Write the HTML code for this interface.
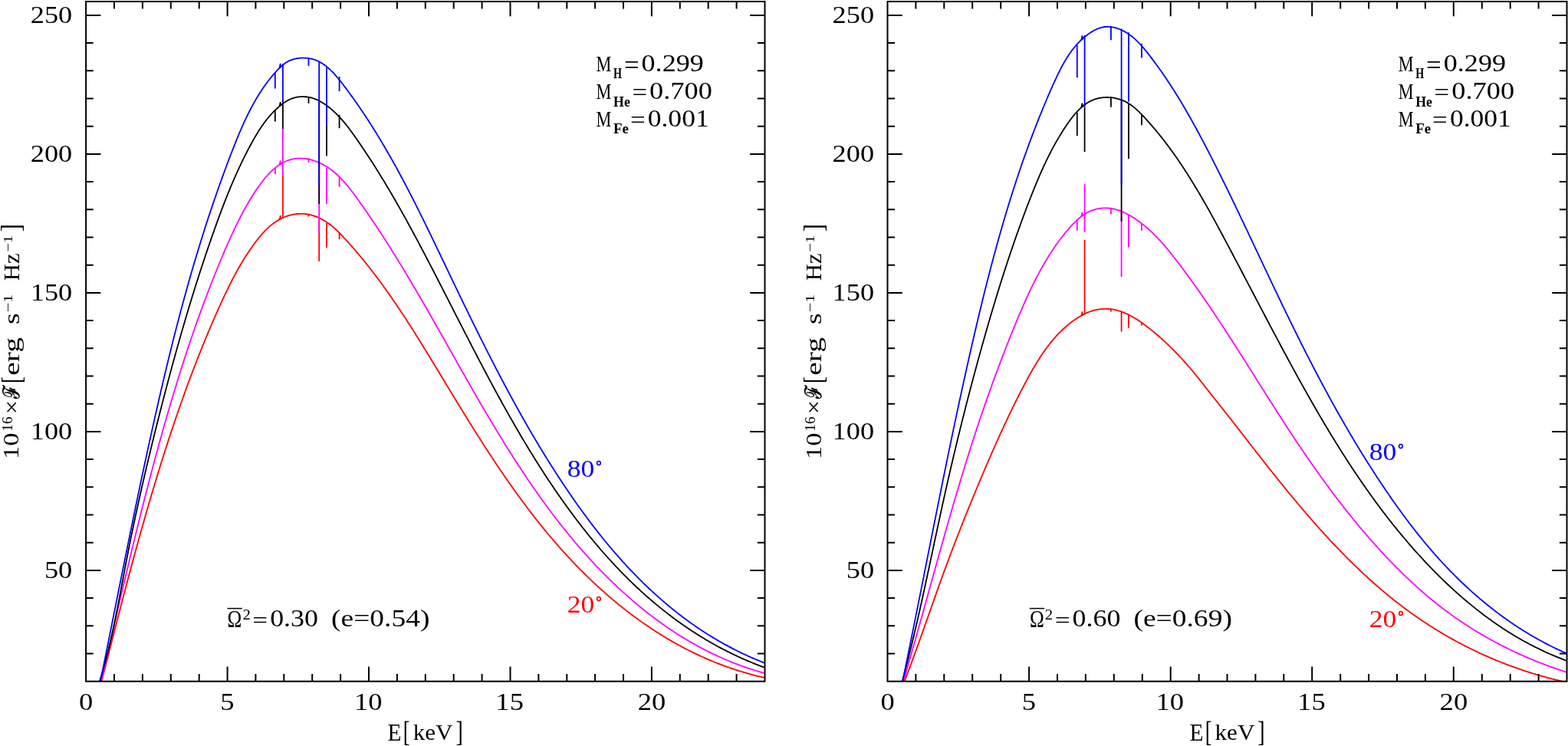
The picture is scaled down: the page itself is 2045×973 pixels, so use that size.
<!DOCTYPE html>
<html><head><meta charset="utf-8"><style>html,body{margin:0;padding:0;background:#fff;overflow:hidden;}svg{display:block;}</style></head>
<body>
<svg width="2045" height="973" viewBox="0 0 2045 973">
<rect width="2045" height="973" fill="#fff"/>
<defs><clipPath id="cl"><rect x="112" y="2" width="885.5" height="886.7"/></clipPath><clipPath id="cr"><rect x="1157.5" y="2" width="886" height="886.7"/></clipPath></defs>
<g clip-path="url(#cl)">
<path d="M130.96 894.93 L133.43 885.23 L133.85 883.55 L134.28 881.87 L134.71 880.18 L135.14 878.50 L135.56 876.81 L135.99 875.13 L136.42 873.44 L136.85 871.76 L137.28 870.08 L137.70 868.39 L138.13 866.71 L138.56 865.02 L138.99 863.34 L139.42 861.66 L139.84 859.97 L140.27 858.29 L140.70 856.60 L141.13 854.92 L141.56 853.23 L141.99 851.55 L142.42 849.87 L142.84 848.18 L143.27 846.50 L143.70 844.81 L144.13 843.13 L144.56 841.44 L144.99 839.76 L145.42 838.08 L145.85 836.39 L146.28 834.71 L146.71 833.02 L147.14 831.34 L147.57 829.66 L148.00 827.97 L148.43 826.29 L148.87 824.60 L149.30 822.92 L149.73 821.24 L150.16 819.55 L150.59 817.87 L151.03 816.19 L151.46 814.50 L151.89 812.82 L152.32 811.14 L152.76 809.45 L153.19 807.77 L153.63 806.09 L154.06 804.40 L154.50 802.72 L154.93 801.04 L155.37 799.35 L155.80 797.67 L156.24 795.99 L156.67 794.30 L157.11 792.62 L157.55 790.94 L157.99 789.26 L158.42 787.57 L158.86 785.89 L159.30 784.21 L159.74 782.53 L160.18 780.85 L160.62 779.16 L161.06 777.48 L161.50 775.80 L161.94 774.12 L162.38 772.44 L162.82 770.76 L163.26 769.08 L163.71 767.39 L164.15 765.71 L164.59 764.03 L165.04 762.35 L165.48 760.67 L165.93 758.99 L166.37 757.31 L166.82 755.63 L167.26 753.95 L167.71 752.27 L168.16 750.59 L168.61 748.91 L169.06 747.23 L169.50 745.55 L169.95 743.87 L170.40 742.19 L170.85 740.51 L171.31 738.84 L171.76 737.16 L172.21 735.48 L172.66 733.80 L173.12 732.12 L173.57 730.44 L174.02 728.77 L174.48 727.09 L174.94 725.41 L175.39 723.73 L175.85 722.06 L176.31 720.38 L176.77 718.70 L177.22 717.03 L177.68 715.35 L178.14 713.68 L178.61 712.00 L179.07 710.32 L179.53 708.65 L179.99 706.97 L180.46 705.30 L180.92 703.62 L181.39 701.95 L181.85 700.27 L182.32 698.60 L182.78 696.93 L183.25 695.25 L183.72 693.58 L184.19 691.90 L184.66 690.23 L185.13 688.56 L185.60 686.89 L186.08 685.21 L186.55 683.54 L187.02 681.87 L187.50 680.20 L187.97 678.53 L188.45 676.85 L188.93 675.18 L189.40 673.51 L189.88 671.84 L190.36 670.17 L190.84 668.50 L191.33 666.83 L191.81 665.16 L192.29 663.49 L192.77 661.82 L193.26 660.15 L193.74 658.49 L194.23 656.82 L194.72 655.15 L195.21 653.48 L195.70 651.81 L196.19 650.15 L196.68 648.48 L197.17 646.81 L197.66 645.15 L198.16 643.48 L198.65 641.82 L199.15 640.15 L199.64 638.49 L200.14 636.82 L200.64 635.16 L201.14 633.49 L201.64 631.83 L202.14 630.16 L202.64 628.50 L203.15 626.84 L203.65 625.18 L204.16 623.51 L204.66 621.85 L205.17 620.19 L205.68 618.53 L206.19 616.87 L206.70 615.21 L207.21 613.54 L207.72 611.88 L208.24 610.22 L208.75 608.57 L209.27 606.91 L209.79 605.25 L210.30 603.59 L210.82 601.93 L211.34 600.27 L211.87 598.62 L212.39 596.96 L212.91 595.30 L213.44 593.65 L213.96 591.99 L214.49 590.33 L215.02 588.68 L215.55 587.02 L216.08 585.37 L216.61 583.71 L217.14 582.06 L217.68 580.41 L218.21 578.75 L218.75 577.10 L219.29 575.45 L219.83 573.80 L220.37 572.14 L220.91 570.49 L221.45 568.84 L222.00 567.19 L222.54 565.54 L223.09 563.89 L223.64 562.24 L224.18 560.59 L224.73 558.95 L225.29 557.30 L225.84 555.65 L226.39 554.00 L226.95 552.36 L227.50 550.71 L228.06 549.06 L228.62 547.42 L229.18 545.77 L229.75 544.13 L230.31 542.48 L230.87 540.84 L231.44 539.20 L232.01 537.55 L232.58 535.91 L233.15 534.27 L233.72 532.63 L234.29 530.99 L234.86 529.35 L235.44 527.71 L236.02 526.07 L236.60 524.43 L237.18 522.79 L237.76 521.15 L238.34 519.51 L238.93 517.88 L239.51 516.24 L240.10 514.61 L240.69 512.97 L241.28 511.34 L241.87 509.70 L242.46 508.07 L243.06 506.44 L243.65 504.80 L244.25 503.17 L244.85 501.54 L245.45 499.91 L246.05 498.28 L246.66 496.65 L247.26 495.02 L247.87 493.39 L248.48 491.77 L249.09 490.14 L249.70 488.51 L250.31 486.89 L250.93 485.27 L251.55 483.64 L252.16 482.02 L252.78 480.40 L253.41 478.77 L254.03 477.15 L254.65 475.53 L255.28 473.91 L255.91 472.29 L256.54 470.68 L257.17 469.06 L257.80 467.44 L258.44 465.83 L259.07 464.21 L259.71 462.60 L260.35 460.98 L260.99 459.37 L261.64 457.76 L262.28 456.15 L262.93 454.54 L263.58 452.93 L264.23 451.32 L264.88 449.71 L265.54 448.11 L266.19 446.50 L266.85 444.89 L267.51 443.29 L268.17 441.69 L268.83 440.08 L269.50 438.48 L270.16 436.88 L270.83 435.28 L271.50 433.68 L272.17 432.08 L272.85 430.49 L273.52 428.89 L274.20 427.30 L274.88 425.70 L275.56 424.11 L276.25 422.52 L276.93 420.92 L277.62 419.33 L278.31 417.74 L279.00 416.16 L279.69 414.57 L280.39 412.98 L281.08 411.40 L281.78 409.81 L282.48 408.23 L283.19 406.65 L283.89 405.06 L284.60 403.48 L285.31 401.90 L286.02 400.33 L286.73 398.75 L287.44 397.17 L288.16 395.60 L288.88 394.02 L289.60 392.45 L290.33 390.88 L291.05 389.31 L291.78 387.74 L292.52 386.17 L293.26 384.61 L294.00 383.05 L294.74 381.49 L295.49 379.93 L296.24 378.37 L297.00 376.81 L297.76 375.26 L298.52 373.71 L299.29 372.16 L300.07 370.61 L300.84 369.07 L301.63 367.52 L302.42 365.98 L303.21 364.45 L304.01 362.91 L304.82 361.38 L305.63 359.85 L306.45 358.32 L307.27 356.80 L308.10 355.28 L308.93 353.76 L309.78 352.25 L310.62 350.74 L311.48 349.23 L312.34 347.72 L313.21 346.22 L314.09 344.72 L314.97 343.23 L315.87 341.74 L316.77 340.25 L317.67 338.76 L318.59 337.28 L319.51 335.81 L320.45 334.34 L321.39 332.87 L322.34 331.40 L323.29 329.94 L324.26 328.49 L325.24 327.03 L326.22 325.59 L327.22 324.14 L328.22 322.70 L329.23 321.27 L330.26 319.84 L331.29 318.41 L332.34 316.99 L333.39 315.58 L334.46 314.18 L335.54 312.78 L336.63 311.40 L337.73 310.03 L338.84 308.67 L339.97 307.33 L341.11 306.01 L342.27 304.70 L343.44 303.41 L344.62 302.14 L345.82 300.89 L347.04 299.66 L348.27 298.46 L349.52 297.28 L350.78 296.12 L352.06 295.00 L353.36 293.90 L354.68 292.83 L356.01 291.79 L357.37 290.78 L358.74 289.81 L360.13 288.87 L361.54 287.97 L362.97 287.11 L364.43 286.28 L365.90 285.49 L367.39 284.75 L368.90 284.04 L370.43 283.37 L371.97 282.75 L373.53 282.17 L375.11 281.63 L376.69 281.14 L378.29 280.69 L379.90 280.29 L381.52 279.93 L383.15 279.62 L384.78 279.36 L386.42 279.15 L388.07 278.98 L389.72 278.87 L391.38 278.80 L393.03 278.79 L394.69 278.82 L396.35 278.91 L398.00 279.06 L399.66 279.25 L401.31 279.50 L402.95 279.81 L404.59 280.17 L406.23 280.58 L407.85 281.03 L409.47 281.54 L411.08 282.10 L412.67 282.70 L414.26 283.35 L415.83 284.03 L417.39 284.77 L418.93 285.54 L420.46 286.35 L421.97 287.20 L423.46 288.08 L424.93 289.00 L426.38 289.95 L427.81 290.94 L429.22 291.96 L430.60 293.00 L431.97 294.07 L433.32 295.17 L434.64 296.30 L435.95 297.44 L437.24 298.61 L438.52 299.79 L439.79 301.00 L441.04 302.22 L442.27 303.45 L443.50 304.70 L444.72 305.95 L445.93 307.22 L447.13 308.49 L448.32 309.77 L449.51 311.06 L450.70 312.35 L451.88 313.64 L453.05 314.93 L454.22 316.23 L455.39 317.52 L456.55 318.83 L457.71 320.13 L458.86 321.44 L460.01 322.75 L461.16 324.06 L462.30 325.38 L463.43 326.70 L464.57 328.02 L465.69 329.35 L466.82 330.67 L467.94 332.00 L469.05 333.34 L470.17 334.67 L471.27 336.01 L472.38 337.35 L473.48 338.69 L474.58 340.04 L475.67 341.39 L476.76 342.74 L477.84 344.09 L478.92 345.44 L480.00 346.80 L481.08 348.16 L482.15 349.52 L483.22 350.89 L484.28 352.26 L485.34 353.63 L486.40 355.00 L487.45 356.37 L488.50 357.75 L489.55 359.13 L490.59 360.51 L491.63 361.89 L492.67 363.27 L493.70 364.66 L494.74 366.05 L495.76 367.44 L496.79 368.84 L497.81 370.23 L498.83 371.63 L499.85 373.03 L500.86 374.43 L501.87 375.83 L502.88 377.24 L503.88 378.65 L504.88 380.05 L505.88 381.47 L506.88 382.88 L507.87 384.29 L508.87 385.71 L509.85 387.13 L510.84 388.55 L511.82 389.97 L512.81 391.39 L513.78 392.82 L514.76 394.25 L515.74 395.67 L516.71 397.10 L517.68 398.54 L518.64 399.97 L519.61 401.40 L520.57 402.84 L521.53 404.28 L522.49 405.72 L523.45 407.16 L524.40 408.60 L525.36 410.04 L526.31 411.49 L527.26 412.94 L528.20 414.38 L529.15 415.83 L530.09 417.28 L531.03 418.73 L531.97 420.19 L532.91 421.64 L533.85 423.10 L534.78 424.55 L535.71 426.01 L536.65 427.47 L537.58 428.93 L538.51 430.39 L539.43 431.86 L540.36 433.32 L541.28 434.78 L542.21 436.25 L543.13 437.72 L544.05 439.18 L544.97 440.65 L545.89 442.12 L546.80 443.59 L547.72 445.06 L548.64 446.53 L549.55 448.01 L550.46 449.48 L551.37 450.96 L552.29 452.43 L553.20 453.91 L554.11 455.38 L555.01 456.86 L555.92 458.34 L556.83 459.82 L557.74 461.30 L558.64 462.78 L559.55 464.26 L560.45 465.74 L561.36 467.22 L562.26 468.71 L563.16 470.19 L564.06 471.67 L564.97 473.16 L565.87 474.64 L566.77 476.13 L567.67 477.61 L568.57 479.10 L569.47 480.58 L570.37 482.07 L571.27 483.56 L572.17 485.04 L573.07 486.53 L573.97 488.02 L574.87 489.51 L575.77 490.99 L576.67 492.48 L577.57 493.97 L578.47 495.46 L579.37 496.95 L580.28 498.44 L581.18 499.92 L582.08 501.41 L582.98 502.90 L583.88 504.39 L584.78 505.88 L585.69 507.37 L586.59 508.86 L587.49 510.35 L588.40 511.84 L589.30 513.32 L590.20 514.81 L591.11 516.30 L592.02 517.79 L592.92 519.28 L593.83 520.77 L594.73 522.25 L595.64 523.74 L596.55 525.23 L597.46 526.72 L598.37 528.20 L599.28 529.69 L600.19 531.17 L601.10 532.66 L602.01 534.15 L602.92 535.63 L603.84 537.12 L604.75 538.60 L605.67 540.09 L606.58 541.57 L607.50 543.05 L608.42 544.54 L609.33 546.02 L610.25 547.50 L611.17 548.98 L612.09 550.46 L613.02 551.94 L613.94 553.42 L614.86 554.90 L615.79 556.38 L616.71 557.86 L617.64 559.34 L618.57 560.81 L619.49 562.29 L620.42 563.76 L621.35 565.24 L622.29 566.71 L623.22 568.19 L624.15 569.66 L625.09 571.13 L626.02 572.60 L626.96 574.07 L627.90 575.54 L628.84 577.01 L629.78 578.48 L630.72 579.94 L631.67 581.41 L632.61 582.88 L633.56 584.34 L634.50 585.80 L635.45 587.27 L636.40 588.73 L637.36 590.19 L638.31 591.65 L639.26 593.10 L640.22 594.56 L641.18 596.02 L642.14 597.47 L643.10 598.93 L644.06 600.38 L645.02 601.83 L645.99 603.28 L646.95 604.73 L647.92 606.18 L648.89 607.63 L649.86 609.07 L650.83 610.52 L651.81 611.96 L652.79 613.40 L653.76 614.84 L654.74 616.28 L655.73 617.72 L656.71 619.16 L657.69 620.59 L658.68 622.03 L659.67 623.46 L660.66 624.89 L661.65 626.32 L662.65 627.75 L663.64 629.18 L664.64 630.60 L665.64 632.03 L666.64 633.45 L667.65 634.87 L668.65 636.29 L669.66 637.71 L670.67 639.12 L671.68 640.54 L672.70 641.95 L673.71 643.36 L674.73 644.77 L675.75 646.18 L676.78 647.59 L677.80 648.99 L678.83 650.39 L679.86 651.80 L680.89 653.20 L681.92 654.59 L682.96 655.99 L684.00 657.38 L685.04 658.78 L686.08 660.17 L687.12 661.55 L688.17 662.94 L689.22 664.33 L690.27 665.71 L691.33 667.09 L692.38 668.47 L693.44 669.85 L694.50 671.22 L695.57 672.59 L696.64 673.96 L697.71 675.33 L698.78 676.70 L699.85 678.07 L700.93 679.43 L702.01 680.79 L703.09 682.15 L704.17 683.50 L705.26 684.86 L706.35 686.21 L707.44 687.56 L708.54 688.91 L709.64 690.25 L710.74 691.60 L711.84 692.94 L712.95 694.28 L714.06 695.61 L715.17 696.95 L716.28 698.28 L717.40 699.61 L718.52 700.93 L719.65 702.26 L720.77 703.58 L721.90 704.90 L723.03 706.22 L724.17 707.53 L725.31 708.84 L726.45 710.15 L727.59 711.46 L728.74 712.77 L729.89 714.07 L731.04 715.37 L732.20 716.67 L733.36 717.96 L734.52 719.25 L735.69 720.54 L736.86 721.83 L738.03 723.11 L739.20 724.39 L740.38 725.67 L741.56 726.95 L742.75 728.22 L743.94 729.49 L745.13 730.76 L746.32 732.02 L747.52 733.28 L748.72 734.54 L749.92 735.80 L751.13 737.05 L752.34 738.30 L753.55 739.55 L754.77 740.79 L755.99 742.03 L757.21 743.27 L758.44 744.50 L759.67 745.74 L760.90 746.96 L762.13 748.19 L763.37 749.41 L764.61 750.63 L765.86 751.84 L767.11 753.06 L768.36 754.26 L769.61 755.47 L770.87 756.67 L772.13 757.87 L773.40 759.07 L774.66 760.26 L775.93 761.44 L777.21 762.63 L778.48 763.81 L779.76 764.99 L781.05 766.16 L782.33 767.33 L783.62 768.50 L784.91 769.66 L786.21 770.82 L787.51 771.98 L788.81 773.13 L790.12 774.28 L791.43 775.42 L792.74 776.56 L794.05 777.70 L795.37 778.83 L796.69 779.96 L798.02 781.08 L799.35 782.20 L800.68 783.32 L802.01 784.43 L803.35 785.54 L804.69 786.65 L806.03 787.75 L807.38 788.84 L808.73 789.94 L810.08 791.02 L811.44 792.11 L812.80 793.19 L814.16 794.26 L815.53 795.34 L816.90 796.40 L818.27 797.47 L819.65 798.52 L821.03 799.58 L822.41 800.63 L823.80 801.67 L825.18 802.71 L826.58 803.75 L827.97 804.78 L829.37 805.81 L830.77 806.83 L832.18 807.85 L833.58 808.86 L835.00 809.87 L836.41 810.88 L837.83 811.88 L839.25 812.87 L840.67 813.86 L842.10 814.85 L843.53 815.83 L844.97 816.80 L846.40 817.77 L847.84 818.74 L849.29 819.70 L850.73 820.66 L852.18 821.61 L853.64 822.55 L855.09 823.50 L856.55 824.43 L858.02 825.36 L859.48 826.29 L860.95 827.21 L862.42 828.13 L863.90 829.04 L865.38 829.94 L866.86 830.84 L868.35 831.74 L869.84 832.63 L871.33 833.51 L872.82 834.39 L874.32 835.27 L875.82 836.13 L877.33 837.00 L878.84 837.86 L880.35 838.71 L881.86 839.56 L883.38 840.40 L884.90 841.23 L886.43 842.06 L887.95 842.89 L889.49 843.71 L891.02 844.52 L892.56 845.33 L894.10 846.13 L895.64 846.93 L897.19 847.72 L898.74 848.50 L900.29 849.28 L901.85 850.06 L903.41 850.82 L904.98 851.59 L906.54 852.34 L908.11 853.09 L909.69 853.84 L911.26 854.57 L912.84 855.31 L914.42 856.03 L916.01 856.75 L917.60 857.47 L919.19 858.17 L920.79 858.88 L922.39 859.57 L923.99 860.26 L925.60 860.94 L927.21 861.62 L928.82 862.29 L930.44 862.96 L932.06 863.61 L933.68 864.27 L935.30 864.91 L936.93 865.55 L938.56 866.18 L940.20 866.81 L941.84 867.43 L943.48 868.04 L945.13 868.65 L946.77 869.25 L948.43 869.84 L950.08 870.43 L951.74 871.01 L953.40 871.59 L955.07 872.15 L956.73 872.71 L958.41 873.27 L960.08 873.82 L961.76 874.36 L963.44 874.89 L965.13 875.42 L966.81 875.94 L968.50 876.45 L970.20 876.96 L971.90 877.46 L973.60 877.95 L975.30 878.43 L977.01 878.91 L978.72 879.38 L980.44 879.85 L982.15 880.30 L983.87 880.75 L985.60 881.20 L987.33 881.63 L989.06 882.06 L990.79 882.48 L992.53 882.90 L994.27 883.30 L996.01 883.70 L997.76 884.10 L1007.51 886.33" stroke="#ff0000" stroke-width="1.8" fill="none" stroke-linejoin="round"/>
<path d="M130.72 894.88 L132.96 885.13 L133.37 883.32 L133.79 881.51 L134.20 879.70 L134.62 877.89 L135.04 876.08 L135.45 874.26 L135.87 872.45 L136.28 870.64 L136.70 868.83 L137.11 867.01 L137.53 865.20 L137.94 863.39 L138.36 861.57 L138.77 859.76 L139.19 857.94 L139.61 856.13 L140.02 854.31 L140.44 852.50 L140.85 850.68 L141.27 848.86 L141.69 847.05 L142.10 845.23 L142.52 843.41 L142.94 841.60 L143.36 839.78 L143.77 837.96 L144.19 836.14 L144.61 834.32 L145.02 832.51 L145.44 830.69 L145.86 828.87 L146.28 827.05 L146.70 825.23 L147.12 823.41 L147.53 821.59 L147.95 819.77 L148.37 817.95 L148.79 816.13 L149.21 814.31 L149.63 812.49 L150.05 810.67 L150.47 808.85 L150.89 807.03 L151.31 805.21 L151.73 803.39 L152.15 801.56 L152.58 799.74 L153.00 797.92 L153.42 796.10 L153.84 794.28 L154.27 792.46 L154.69 790.63 L155.11 788.81 L155.53 786.99 L155.96 785.17 L156.38 783.35 L156.81 781.52 L157.23 779.70 L157.66 777.88 L158.08 776.06 L158.51 774.23 L158.93 772.41 L159.36 770.59 L159.79 768.76 L160.22 766.94 L160.64 765.12 L161.07 763.30 L161.50 761.47 L161.93 759.65 L162.36 757.83 L162.79 756.00 L163.22 754.18 L163.65 752.36 L164.08 750.54 L164.51 748.71 L164.94 746.89 L165.37 745.07 L165.81 743.24 L166.24 741.42 L166.67 739.60 L167.11 737.78 L167.54 735.95 L167.97 734.13 L168.41 732.31 L168.85 730.49 L169.28 728.66 L169.72 726.84 L170.16 725.02 L170.59 723.20 L171.03 721.38 L171.47 719.55 L171.91 717.73 L172.35 715.91 L172.79 714.09 L173.23 712.27 L173.67 710.45 L174.11 708.63 L174.56 706.80 L175.00 704.98 L175.44 703.16 L175.89 701.34 L176.33 699.52 L176.78 697.70 L177.22 695.88 L177.67 694.06 L178.12 692.24 L178.56 690.42 L179.01 688.60 L179.46 686.78 L179.91 684.97 L180.36 683.15 L180.81 681.33 L181.26 679.51 L181.71 677.69 L182.17 675.87 L182.62 674.06 L183.07 672.24 L183.53 670.42 L183.98 668.61 L184.44 666.79 L184.90 664.97 L185.35 663.16 L185.81 661.34 L186.27 659.52 L186.73 657.71 L187.19 655.89 L187.65 654.08 L188.11 652.27 L188.57 650.45 L189.04 648.64 L189.50 646.82 L189.97 645.01 L190.43 643.20 L190.90 641.39 L191.36 639.57 L191.83 637.76 L192.30 635.95 L192.77 634.14 L193.24 632.33 L193.71 630.52 L194.18 628.71 L194.65 626.90 L195.13 625.09 L195.60 623.28 L196.07 621.47 L196.55 619.66 L197.03 617.85 L197.50 616.05 L197.98 614.24 L198.46 612.43 L198.94 610.63 L199.42 608.82 L199.90 607.02 L200.38 605.21 L200.87 603.41 L201.35 601.60 L201.83 599.80 L202.32 598.00 L202.81 596.19 L203.29 594.39 L203.78 592.59 L204.27 590.79 L204.76 588.99 L205.25 587.19 L205.75 585.39 L206.24 583.59 L206.73 581.79 L207.23 579.99 L207.72 578.19 L208.22 576.39 L208.72 574.60 L209.22 572.80 L209.72 571.01 L210.22 569.21 L210.72 567.42 L211.22 565.62 L211.73 563.83 L212.23 562.03 L212.74 560.24 L213.24 558.45 L213.75 556.66 L214.26 554.87 L214.77 553.08 L215.28 551.29 L215.79 549.50 L216.30 547.71 L216.82 545.92 L217.33 544.14 L217.85 542.35 L218.37 540.56 L218.88 538.78 L219.40 536.99 L219.92 535.21 L220.45 533.42 L220.97 531.64 L221.49 529.86 L222.02 528.08 L222.54 526.29 L223.07 524.51 L223.60 522.73 L224.13 520.95 L224.66 519.17 L225.19 517.39 L225.73 515.61 L226.26 513.84 L226.80 512.06 L227.34 510.28 L227.88 508.50 L228.42 506.73 L228.96 504.95 L229.50 503.18 L230.05 501.40 L230.59 499.63 L231.14 497.85 L231.69 496.08 L232.24 494.31 L232.79 492.53 L233.34 490.76 L233.90 488.99 L234.45 487.22 L235.01 485.45 L235.57 483.68 L236.13 481.91 L236.69 480.14 L237.26 478.37 L237.82 476.60 L238.39 474.83 L238.96 473.06 L239.53 471.30 L240.10 469.53 L240.67 467.76 L241.24 465.99 L241.82 464.23 L242.40 462.46 L242.98 460.70 L243.56 458.93 L244.14 457.17 L244.73 455.40 L245.31 453.64 L245.90 451.87 L246.49 450.11 L247.08 448.35 L247.68 446.59 L248.27 444.82 L248.87 443.06 L249.47 441.30 L250.07 439.54 L250.67 437.78 L251.28 436.01 L251.88 434.25 L252.49 432.49 L253.10 430.73 L253.71 428.97 L254.33 427.21 L254.94 425.45 L255.56 423.69 L256.18 421.93 L256.80 420.18 L257.42 418.42 L258.05 416.66 L258.68 414.90 L259.31 413.14 L259.94 411.39 L260.57 409.63 L261.21 407.87 L261.85 406.11 L262.49 404.36 L263.13 402.60 L263.77 400.84 L264.42 399.09 L265.07 397.33 L265.72 395.57 L266.37 393.82 L267.02 392.06 L267.68 390.31 L268.34 388.55 L269.00 386.80 L269.67 385.04 L270.33 383.29 L271.00 381.53 L271.67 379.78 L272.34 378.02 L273.02 376.27 L273.69 374.51 L274.37 372.76 L275.06 371.01 L275.74 369.25 L276.43 367.50 L277.11 365.74 L277.81 363.99 L278.50 362.24 L279.20 360.48 L279.89 358.73 L280.59 356.98 L281.30 355.22 L282.00 353.47 L282.71 351.72 L283.42 349.97 L284.13 348.22 L284.85 346.47 L285.57 344.72 L286.29 342.98 L287.01 341.24 L287.73 339.50 L288.46 337.76 L289.19 336.02 L289.92 334.29 L290.65 332.56 L291.38 330.83 L292.12 329.11 L292.86 327.39 L293.60 325.68 L294.34 323.96 L295.09 322.26 L295.84 320.55 L296.59 318.85 L297.34 317.16 L298.09 315.47 L298.85 313.79 L299.61 312.11 L300.37 310.44 L301.13 308.77 L301.89 307.11 L302.66 305.45 L303.43 303.80 L304.19 302.16 L304.97 300.53 L305.74 298.90 L306.51 297.27 L307.29 295.66 L308.07 294.05 L308.85 292.46 L309.63 290.86 L310.42 289.28 L311.20 287.71 L311.99 286.14 L312.79 284.58 L313.58 283.02 L314.38 281.47 L315.19 279.92 L316.00 278.38 L316.82 276.85 L317.64 275.31 L318.47 273.78 L319.31 272.25 L320.16 270.72 L321.01 269.19 L321.88 267.66 L322.76 266.14 L323.64 264.61 L324.54 263.07 L325.45 261.54 L326.37 260.01 L327.30 258.47 L328.25 256.93 L329.21 255.38 L330.18 253.84 L331.17 252.30 L332.17 250.75 L333.19 249.21 L334.22 247.67 L335.27 246.13 L336.34 244.59 L337.42 243.05 L338.52 241.52 L339.64 239.99 L340.77 238.47 L341.93 236.96 L343.10 235.45 L344.29 233.96 L345.50 232.48 L346.73 231.02 L347.98 229.58 L349.26 228.17 L350.55 226.77 L351.86 225.41 L353.20 224.07 L354.55 222.77 L355.93 221.50 L357.33 220.27 L358.76 219.07 L360.20 217.92 L361.67 216.82 L363.16 215.75 L364.67 214.74 L366.21 213.78 L367.76 212.86 L369.33 212.01 L370.92 211.20 L372.53 210.46 L374.16 209.77 L375.80 209.15 L377.46 208.59 L379.14 208.10 L380.83 207.67 L382.54 207.31 L384.26 207.03 L386.00 206.81 L387.74 206.65 L389.50 206.56 L391.26 206.54 L393.02 206.57 L394.79 206.67 L396.57 206.82 L398.34 207.03 L400.12 207.30 L401.89 207.62 L403.65 208.00 L405.42 208.42 L407.17 208.90 L408.92 209.43 L410.65 210.00 L412.38 210.63 L414.08 211.29 L415.78 212.00 L417.46 212.75 L419.12 213.54 L420.75 214.38 L422.37 215.25 L423.97 216.15 L425.54 217.09 L427.08 218.07 L428.61 219.08 L430.11 220.12 L431.59 221.19 L433.04 222.29 L434.48 223.43 L435.90 224.59 L437.30 225.77 L438.68 226.99 L440.04 228.23 L441.38 229.49 L442.71 230.78 L444.02 232.09 L445.31 233.42 L446.59 234.77 L447.86 236.14 L449.11 237.53 L450.35 238.94 L451.57 240.36 L452.78 241.80 L453.98 243.26 L455.17 244.73 L456.35 246.21 L457.52 247.70 L458.69 249.20 L459.84 250.72 L460.98 252.24 L462.12 253.77 L463.25 255.30 L464.37 256.84 L465.49 258.39 L466.60 259.94 L467.71 261.50 L468.82 263.05 L469.92 264.61 L471.02 266.16 L472.12 267.72 L473.21 269.28 L474.30 270.84 L475.38 272.40 L476.47 273.96 L477.55 275.53 L478.63 277.09 L479.70 278.66 L480.77 280.22 L481.84 281.79 L482.91 283.36 L483.97 284.92 L485.03 286.49 L486.09 288.06 L487.14 289.63 L488.19 291.21 L489.24 292.78 L490.29 294.35 L491.33 295.93 L492.37 297.50 L493.41 299.08 L494.45 300.66 L495.48 302.23 L496.51 303.81 L497.54 305.39 L498.57 306.97 L499.59 308.55 L500.61 310.13 L501.63 311.72 L502.65 313.30 L503.66 314.88 L504.67 316.47 L505.68 318.05 L506.69 319.64 L507.69 321.22 L508.70 322.81 L509.70 324.40 L510.69 325.99 L511.69 327.58 L512.68 329.17 L513.68 330.76 L514.67 332.35 L515.65 333.94 L516.64 335.54 L517.62 337.13 L518.61 338.72 L519.59 340.32 L520.57 341.91 L521.54 343.51 L522.52 345.11 L523.49 346.70 L524.46 348.30 L525.43 349.90 L526.40 351.50 L527.36 353.10 L528.33 354.70 L529.29 356.30 L530.25 357.90 L531.21 359.50 L532.17 361.11 L533.13 362.71 L534.08 364.31 L535.04 365.92 L535.99 367.52 L536.94 369.13 L537.89 370.73 L538.84 372.34 L539.78 373.95 L540.73 375.55 L541.67 377.16 L542.61 378.77 L543.56 380.38 L544.50 381.99 L545.44 383.59 L546.37 385.20 L547.31 386.81 L548.25 388.43 L549.18 390.04 L550.11 391.65 L551.05 393.26 L551.98 394.87 L552.91 396.48 L553.84 398.10 L554.77 399.71 L555.70 401.32 L556.62 402.94 L557.55 404.55 L558.48 406.17 L559.40 407.78 L560.33 409.40 L561.25 411.01 L562.17 412.63 L563.09 414.25 L564.02 415.86 L564.94 417.48 L565.86 419.10 L566.78 420.72 L567.70 422.33 L568.62 423.95 L569.53 425.57 L570.45 427.19 L571.37 428.81 L572.29 430.43 L573.20 432.05 L574.12 433.66 L575.04 435.28 L575.95 436.90 L576.87 438.52 L577.78 440.15 L578.70 441.77 L579.61 443.39 L580.53 445.01 L581.44 446.63 L582.36 448.25 L583.27 449.87 L584.19 451.49 L585.10 453.11 L586.02 454.74 L586.93 456.36 L587.85 457.98 L588.76 459.60 L589.68 461.22 L590.59 462.85 L591.51 464.47 L592.42 466.09 L593.34 467.71 L594.25 469.34 L595.17 470.96 L596.09 472.58 L597.01 474.20 L597.92 475.83 L598.84 477.45 L599.76 479.07 L600.68 480.70 L601.60 482.32 L602.52 483.94 L603.44 485.56 L604.36 487.19 L605.28 488.81 L606.20 490.43 L607.12 492.06 L608.05 493.68 L608.97 495.30 L609.90 496.92 L610.82 498.55 L611.75 500.17 L612.68 501.79 L613.60 503.41 L614.53 505.03 L615.46 506.65 L616.39 508.28 L617.32 509.90 L618.26 511.52 L619.19 513.14 L620.12 514.76 L621.06 516.38 L621.99 518.00 L622.93 519.61 L623.87 521.23 L624.81 522.85 L625.75 524.47 L626.69 526.09 L627.63 527.70 L628.57 529.32 L629.52 530.93 L630.46 532.55 L631.41 534.16 L632.35 535.78 L633.30 537.39 L634.25 539.00 L635.20 540.61 L636.16 542.23 L637.11 543.84 L638.07 545.45 L639.02 547.06 L639.98 548.66 L640.94 550.27 L641.90 551.88 L642.86 553.48 L643.83 555.09 L644.79 556.69 L645.76 558.30 L646.72 559.90 L647.69 561.50 L648.67 563.10 L649.64 564.70 L650.61 566.30 L651.59 567.90 L652.56 569.50 L653.54 571.09 L654.52 572.69 L655.51 574.28 L656.49 575.88 L657.48 577.47 L658.46 579.06 L659.45 580.65 L660.44 582.24 L661.43 583.82 L662.43 585.41 L663.43 587.00 L664.42 588.58 L665.42 590.16 L666.43 591.74 L667.43 593.32 L668.44 594.90 L669.44 596.48 L670.45 598.06 L671.46 599.63 L672.48 601.20 L673.49 602.78 L674.51 604.35 L675.53 605.91 L676.55 607.48 L677.58 609.05 L678.60 610.61 L679.63 612.18 L680.66 613.74 L681.70 615.30 L682.73 616.86 L683.77 618.41 L684.81 619.97 L685.85 621.52 L686.89 623.08 L687.94 624.63 L688.99 626.18 L690.04 627.72 L691.09 629.27 L692.15 630.81 L693.21 632.35 L694.27 633.89 L695.33 635.43 L696.40 636.97 L697.47 638.50 L698.54 640.04 L699.61 641.57 L700.69 643.10 L701.76 644.62 L702.84 646.15 L703.93 647.67 L705.01 649.19 L706.10 650.71 L707.20 652.23 L708.29 653.75 L709.39 655.26 L710.49 656.77 L711.59 658.28 L712.70 659.79 L713.80 661.29 L714.91 662.79 L716.03 664.29 L717.15 665.79 L718.27 667.29 L719.39 668.78 L720.51 670.28 L721.64 671.77 L722.77 673.25 L723.91 674.74 L725.05 676.22 L726.19 677.70 L727.33 679.18 L728.48 680.65 L729.63 682.13 L730.78 683.60 L731.94 685.07 L733.09 686.53 L734.26 688.00 L735.42 689.46 L736.59 690.92 L737.76 692.37 L738.94 693.83 L740.12 695.28 L741.30 696.72 L742.48 698.17 L743.67 699.61 L744.86 701.05 L746.06 702.49 L747.26 703.93 L748.46 705.36 L749.67 706.79 L750.88 708.22 L752.09 709.64 L753.30 711.06 L754.52 712.48 L755.75 713.90 L756.97 715.31 L758.20 716.72 L759.44 718.13 L760.68 719.53 L761.92 720.93 L763.16 722.33 L764.41 723.73 L765.66 725.12 L766.92 726.51 L768.18 727.90 L769.44 729.28 L770.71 730.66 L771.98 732.04 L773.25 733.41 L774.53 734.78 L775.81 736.15 L777.10 737.51 L778.38 738.87 L779.68 740.23 L780.97 741.58 L782.27 742.93 L783.58 744.28 L784.88 745.62 L786.20 746.96 L787.51 748.30 L788.83 749.63 L790.15 750.96 L791.48 752.28 L792.81 753.60 L794.14 754.92 L795.48 756.23 L796.82 757.54 L798.16 758.84 L799.51 760.14 L800.86 761.44 L802.22 762.73 L803.58 764.02 L804.94 765.31 L806.31 766.59 L807.68 767.86 L809.06 769.13 L810.43 770.40 L811.82 771.66 L813.20 772.92 L814.59 774.18 L815.99 775.43 L817.38 776.67 L818.78 777.91 L820.19 779.15 L821.60 780.38 L823.01 781.61 L824.43 782.83 L825.85 784.05 L827.27 785.26 L828.70 786.47 L830.13 787.67 L831.57 788.87 L833.00 790.06 L834.45 791.25 L835.89 792.43 L837.35 793.61 L838.80 794.78 L840.26 795.95 L841.72 797.11 L843.19 798.27 L844.66 799.42 L846.13 800.57 L847.61 801.71 L849.09 802.85 L850.57 803.98 L852.06 805.10 L853.56 806.22 L855.05 807.34 L856.55 808.45 L858.06 809.55 L859.57 810.65 L861.08 811.74 L862.60 812.83 L864.12 813.91 L865.64 814.98 L867.17 816.05 L868.70 817.12 L870.23 818.17 L871.77 819.22 L873.32 820.27 L874.86 821.31 L876.42 822.34 L877.97 823.37 L879.53 824.39 L881.09 825.41 L882.66 826.42 L884.23 827.42 L885.81 828.42 L887.38 829.41 L888.97 830.39 L890.55 831.37 L892.14 832.34 L893.74 833.30 L895.34 834.26 L896.94 835.21 L898.55 836.16 L900.16 837.10 L901.77 838.03 L903.39 838.95 L905.01 839.87 L906.64 840.78 L908.27 841.69 L909.90 842.59 L911.54 843.48 L913.18 844.36 L914.83 845.24 L916.48 846.11 L918.13 846.97 L919.79 847.83 L921.45 848.68 L923.12 849.52 L924.79 850.35 L926.46 851.18 L928.14 852.00 L929.82 852.82 L931.51 853.62 L933.20 854.42 L934.89 855.21 L936.59 855.99 L938.29 856.77 L940.00 857.54 L941.71 858.30 L943.42 859.05 L945.14 859.80 L946.86 860.53 L948.59 861.27 L950.32 861.99 L952.05 862.70 L953.79 863.41 L955.54 864.11 L957.28 864.80 L959.03 865.48 L960.79 866.16 L962.55 866.82 L964.31 867.48 L966.08 868.13 L967.85 868.78 L969.62 869.41 L971.40 870.04 L973.19 870.66 L974.97 871.27 L976.76 871.87 L978.56 872.46 L980.36 873.04 L982.16 873.62 L983.97 874.19 L985.78 874.75 L987.60 875.30 L989.42 875.84 L991.24 876.37 L993.07 876.90 L994.91 877.42 L996.74 877.92 L1006.37 880.63" stroke="#ff00ff" stroke-width="1.8" fill="none" stroke-linejoin="round"/>
<path d="M128.12 894.55 L131.02 884.98 L131.62 883.06 L132.20 881.13 L132.78 879.20 L133.35 877.26 L133.91 875.33 L134.47 873.39 L135.03 871.46 L135.57 869.52 L136.11 867.58 L136.65 865.64 L137.17 863.70 L137.70 861.75 L138.21 859.81 L138.72 857.86 L139.23 855.92 L139.73 853.97 L140.23 852.02 L140.72 850.07 L141.20 848.12 L141.68 846.16 L142.16 844.21 L142.63 842.25 L143.09 840.30 L143.55 838.34 L144.01 836.38 L144.46 834.42 L144.91 832.46 L145.36 830.50 L145.80 828.54 L146.24 826.58 L146.67 824.61 L147.10 822.65 L147.52 820.68 L147.95 818.71 L148.37 816.75 L148.78 814.78 L149.20 812.81 L149.61 810.84 L150.01 808.87 L150.42 806.90 L150.82 804.93 L151.22 802.96 L151.61 800.99 L152.01 799.01 L152.40 797.04 L152.79 795.07 L153.18 793.09 L153.57 791.12 L153.95 789.14 L154.33 787.17 L154.71 785.19 L155.09 783.21 L155.47 781.24 L155.85 779.26 L156.22 777.28 L156.60 775.30 L156.97 773.33 L157.35 771.35 L157.72 769.37 L158.09 767.39 L158.46 765.41 L158.83 763.43 L159.20 761.46 L159.57 759.48 L159.94 757.50 L160.31 755.52 L160.68 753.54 L161.05 751.56 L161.42 749.58 L161.79 747.60 L162.17 745.63 L162.54 743.65 L162.91 741.67 L163.29 739.69 L163.66 737.71 L164.04 735.74 L164.41 733.76 L164.79 731.78 L165.17 729.80 L165.55 727.83 L165.94 725.85 L166.32 723.88 L166.71 721.90 L167.10 719.93 L167.48 717.95 L167.88 715.98 L168.27 714.00 L168.66 712.03 L169.06 710.05 L169.45 708.08 L169.85 706.11 L170.25 704.14 L170.65 702.16 L171.05 700.19 L171.45 698.22 L171.86 696.25 L172.27 694.28 L172.67 692.31 L173.08 690.34 L173.49 688.37 L173.90 686.40 L174.32 684.43 L174.73 682.46 L175.15 680.49 L175.57 678.52 L175.98 676.55 L176.40 674.58 L176.83 672.62 L177.25 670.65 L177.67 668.68 L178.10 666.71 L178.52 664.75 L178.95 662.78 L179.38 660.82 L179.81 658.85 L180.24 656.89 L180.67 654.92 L181.11 652.96 L181.54 650.99 L181.98 649.03 L182.42 647.06 L182.86 645.10 L183.30 643.14 L183.74 641.18 L184.18 639.21 L184.62 637.25 L185.07 635.29 L185.52 633.33 L185.96 631.37 L186.41 629.41 L186.86 627.45 L187.31 625.49 L187.76 623.53 L188.22 621.57 L188.67 619.61 L189.13 617.65 L189.58 615.69 L190.04 613.73 L190.50 611.77 L190.96 609.81 L191.42 607.86 L191.88 605.90 L192.35 603.94 L192.81 601.99 L193.28 600.03 L193.74 598.07 L194.21 596.12 L194.68 594.16 L195.15 592.21 L195.62 590.25 L196.09 588.30 L196.56 586.34 L197.04 584.39 L197.51 582.44 L197.99 580.48 L198.46 578.53 L198.94 576.58 L199.42 574.62 L199.90 572.67 L200.38 570.72 L200.86 568.77 L201.34 566.82 L201.83 564.87 L202.31 562.92 L202.80 560.96 L203.28 559.01 L203.77 557.06 L204.26 555.12 L204.75 553.17 L205.24 551.22 L205.73 549.27 L206.22 547.32 L206.71 545.37 L207.20 543.42 L207.70 541.48 L208.19 539.53 L208.69 537.58 L209.19 535.63 L209.68 533.69 L210.18 531.74 L210.68 529.80 L211.18 527.85 L211.68 525.91 L212.19 523.96 L212.69 522.02 L213.19 520.07 L213.70 518.13 L214.20 516.18 L214.71 514.24 L215.22 512.30 L215.73 510.35 L216.24 508.41 L216.75 506.47 L217.26 504.53 L217.77 502.59 L218.29 500.65 L218.80 498.71 L219.32 496.77 L219.84 494.83 L220.35 492.89 L220.87 490.95 L221.39 489.01 L221.91 487.07 L222.44 485.13 L222.96 483.19 L223.48 481.26 L224.01 479.32 L224.54 477.38 L225.07 475.45 L225.59 473.51 L226.12 471.57 L226.66 469.64 L227.19 467.70 L227.72 465.77 L228.26 463.84 L228.79 461.90 L229.33 459.97 L229.87 458.04 L230.41 456.10 L230.95 454.17 L231.49 452.24 L232.04 450.31 L232.58 448.38 L233.13 446.45 L233.68 444.52 L234.22 442.59 L234.77 440.66 L235.33 438.73 L235.88 436.80 L236.43 434.87 L236.99 432.95 L237.54 431.02 L238.10 429.09 L238.66 427.17 L239.22 425.24 L239.79 423.32 L240.35 421.39 L240.91 419.47 L241.48 417.54 L242.05 415.62 L242.62 413.70 L243.19 411.78 L243.76 409.85 L244.33 407.93 L244.91 406.01 L245.48 404.09 L246.06 402.17 L246.64 400.25 L247.22 398.33 L247.81 396.42 L248.39 394.50 L248.98 392.58 L249.56 390.66 L250.15 388.75 L250.74 386.83 L251.33 384.92 L251.93 383.00 L252.52 381.09 L253.12 379.17 L253.71 377.26 L254.31 375.35 L254.92 373.43 L255.52 371.52 L256.12 369.61 L256.73 367.70 L257.34 365.79 L257.95 363.88 L258.56 361.97 L259.17 360.06 L259.78 358.16 L260.40 356.25 L261.02 354.34 L261.64 352.43 L262.26 350.53 L262.88 348.62 L263.51 346.72 L264.13 344.82 L264.76 342.91 L265.39 341.01 L266.02 339.11 L266.66 337.21 L267.29 335.30 L267.93 333.40 L268.57 331.50 L269.21 329.60 L269.85 327.71 L270.49 325.81 L271.14 323.91 L271.79 322.01 L272.44 320.12 L273.09 318.22 L273.74 316.33 L274.40 314.43 L275.06 312.54 L275.72 310.64 L276.38 308.75 L277.04 306.86 L277.70 304.97 L278.37 303.08 L279.04 301.19 L279.71 299.30 L280.38 297.41 L281.06 295.52 L281.74 293.63 L282.42 291.75 L283.10 289.86 L283.78 287.98 L284.47 286.09 L285.16 284.21 L285.85 282.33 L286.55 280.45 L287.24 278.57 L287.95 276.69 L288.65 274.81 L289.36 272.93 L290.07 271.06 L290.78 269.18 L291.50 267.31 L292.22 265.44 L292.95 263.57 L293.68 261.70 L294.41 259.83 L295.15 257.97 L295.89 256.10 L296.64 254.24 L297.39 252.38 L298.14 250.52 L298.90 248.66 L299.66 246.80 L300.43 244.95 L301.20 243.09 L301.98 241.24 L302.76 239.39 L303.55 237.55 L304.35 235.70 L305.14 233.86 L305.95 232.02 L306.76 230.18 L307.57 228.34 L308.39 226.50 L309.22 224.67 L310.05 222.84 L310.89 221.01 L311.73 219.18 L312.58 217.36 L313.44 215.54 L314.30 213.72 L315.17 211.90 L316.05 210.08 L316.93 208.27 L317.82 206.46 L318.72 204.66 L319.62 202.85 L320.53 201.05 L321.45 199.25 L322.37 197.45 L323.30 195.66 L324.24 193.87 L325.19 192.08 L326.14 190.29 L327.11 188.51 L328.08 186.73 L329.06 184.96 L330.04 183.19 L331.04 181.43 L332.05 179.67 L333.07 177.93 L334.10 176.19 L335.15 174.46 L336.20 172.74 L337.27 171.03 L338.36 169.34 L339.45 167.65 L340.57 165.98 L341.69 164.33 L342.84 162.69 L344.00 161.06 L345.18 159.46 L346.37 157.87 L347.59 156.30 L348.82 154.75 L350.07 153.21 L351.35 151.70 L352.64 150.21 L353.95 148.75 L355.29 147.31 L356.64 145.89 L358.02 144.49 L359.43 143.13 L360.86 141.79 L362.31 140.47 L363.78 139.19 L365.29 137.93 L366.81 136.71 L368.37 135.52 L369.95 134.38 L371.56 133.28 L373.20 132.25 L374.87 131.27 L376.57 130.37 L378.30 129.54 L380.06 128.79 L381.85 128.13 L383.67 127.57 L385.52 127.09 L387.39 126.70 L389.29 126.40 L391.19 126.19 L393.11 126.06 L395.04 126.03 L396.97 126.09 L398.91 126.23 L400.84 126.46 L402.77 126.77 L404.68 127.18 L406.58 127.67 L408.47 128.24 L410.34 128.89 L412.19 129.62 L414.02 130.43 L415.83 131.30 L417.62 132.24 L419.39 133.23 L421.14 134.29 L422.86 135.39 L424.56 136.55 L426.24 137.74 L427.89 138.98 L429.51 140.26 L431.11 141.56 L432.68 142.90 L434.22 144.25 L435.74 145.63 L437.22 147.03 L438.68 148.44 L440.11 149.88 L441.52 151.33 L442.90 152.80 L444.26 154.28 L445.61 155.78 L446.93 157.30 L448.23 158.82 L449.51 160.36 L450.78 161.92 L452.03 163.48 L453.26 165.05 L454.48 166.64 L455.69 168.23 L456.89 169.83 L458.07 171.44 L459.25 173.05 L460.42 174.68 L461.58 176.30 L462.73 177.93 L463.88 179.57 L465.03 181.21 L466.17 182.85 L467.31 184.49 L468.44 186.13 L469.57 187.78 L470.70 189.43 L471.82 191.08 L472.94 192.74 L474.06 194.40 L475.17 196.06 L476.28 197.72 L477.39 199.39 L478.49 201.05 L479.59 202.72 L480.69 204.40 L481.78 206.07 L482.87 207.75 L483.95 209.43 L485.04 211.11 L486.11 212.79 L487.19 214.48 L488.26 216.17 L489.33 217.86 L490.40 219.55 L491.46 221.24 L492.53 222.94 L493.58 224.64 L494.64 226.34 L495.69 228.04 L496.74 229.74 L497.78 231.45 L498.83 233.16 L499.87 234.87 L500.91 236.58 L501.94 238.29 L502.97 240.01 L504.00 241.73 L505.03 243.45 L506.05 245.17 L507.07 246.89 L508.09 248.61 L509.11 250.34 L510.12 252.07 L511.13 253.80 L512.14 255.53 L513.15 257.26 L514.15 259.00 L515.16 260.73 L516.16 262.47 L517.15 264.21 L518.15 265.95 L519.14 267.69 L520.13 269.43 L521.12 271.18 L522.10 272.92 L523.09 274.67 L524.07 276.42 L525.05 278.17 L526.03 279.92 L527.00 281.67 L527.98 283.42 L528.95 285.18 L529.92 286.93 L530.89 288.69 L531.85 290.45 L532.82 292.21 L533.78 293.97 L534.74 295.73 L535.70 297.49 L536.66 299.25 L537.61 301.02 L538.57 302.78 L539.52 304.55 L540.47 306.32 L541.42 308.08 L542.37 309.85 L543.31 311.62 L544.26 313.39 L545.20 315.16 L546.14 316.93 L547.09 318.71 L548.02 320.48 L548.96 322.25 L549.90 324.03 L550.84 325.80 L551.77 327.58 L552.70 329.36 L553.63 331.13 L554.57 332.91 L555.50 334.69 L556.42 336.47 L557.35 338.25 L558.28 340.03 L559.20 341.81 L560.13 343.59 L561.05 345.37 L561.98 347.15 L562.90 348.93 L563.82 350.71 L564.74 352.49 L565.66 354.28 L566.58 356.06 L567.50 357.84 L568.41 359.62 L569.33 361.41 L570.25 363.19 L571.16 364.97 L572.08 366.76 L572.99 368.54 L573.91 370.32 L574.82 372.11 L575.74 373.89 L576.65 375.68 L577.56 377.46 L578.47 379.24 L579.38 381.03 L580.30 382.81 L581.21 384.60 L582.12 386.38 L583.03 388.16 L583.94 389.95 L584.85 391.73 L585.76 393.52 L586.67 395.30 L587.58 397.08 L588.49 398.87 L589.40 400.65 L590.31 402.44 L591.22 404.22 L592.13 406.00 L593.04 407.79 L593.95 409.57 L594.86 411.35 L595.77 413.14 L596.68 414.92 L597.59 416.70 L598.50 418.49 L599.41 420.27 L600.32 422.05 L601.23 423.83 L602.14 425.62 L603.05 427.40 L603.96 429.18 L604.88 430.96 L605.79 432.74 L606.70 434.52 L607.62 436.30 L608.53 438.08 L609.45 439.86 L610.36 441.64 L611.28 443.42 L612.19 445.20 L613.11 446.98 L614.03 448.76 L614.95 450.54 L615.87 452.32 L616.78 454.09 L617.71 455.87 L618.63 457.65 L619.55 459.42 L620.47 461.20 L621.40 462.98 L622.32 464.75 L623.25 466.53 L624.17 468.30 L625.10 470.08 L626.03 471.85 L626.96 473.62 L627.89 475.40 L628.82 477.17 L629.75 478.94 L630.68 480.71 L631.62 482.48 L632.56 484.25 L633.49 486.02 L634.43 487.79 L635.37 489.56 L636.31 491.33 L637.25 493.10 L638.20 494.86 L639.14 496.63 L640.09 498.40 L641.04 500.16 L641.98 501.93 L642.93 503.69 L643.89 505.45 L644.84 507.22 L645.79 508.98 L646.75 510.74 L647.71 512.50 L648.67 514.26 L649.63 516.02 L650.59 517.78 L651.56 519.54 L652.52 521.30 L653.49 523.05 L654.46 524.81 L655.43 526.57 L656.41 528.32 L657.38 530.07 L658.36 531.83 L659.34 533.58 L660.32 535.33 L661.30 537.08 L662.29 538.83 L663.27 540.58 L664.26 542.33 L665.25 544.08 L666.25 545.82 L667.24 547.57 L668.24 549.31 L669.24 551.06 L670.24 552.80 L671.24 554.54 L672.25 556.29 L673.26 558.03 L674.27 559.77 L675.28 561.50 L676.29 563.24 L677.31 564.98 L678.33 566.71 L679.35 568.45 L680.38 570.18 L681.40 571.92 L682.43 573.65 L683.47 575.38 L684.50 577.11 L685.54 578.84 L686.58 580.57 L687.62 582.29 L688.66 584.02 L689.71 585.74 L690.76 587.46 L691.81 589.18 L692.87 590.90 L693.93 592.62 L694.99 594.34 L696.05 596.06 L697.12 597.77 L698.19 599.48 L699.26 601.19 L700.33 602.90 L701.41 604.61 L702.49 606.32 L703.57 608.02 L704.66 609.73 L705.74 611.43 L706.84 613.13 L707.93 614.82 L709.03 616.52 L710.13 618.21 L711.23 619.91 L712.33 621.60 L713.44 623.28 L714.55 624.97 L715.67 626.65 L716.79 628.34 L717.91 630.02 L719.03 631.70 L720.16 633.37 L721.29 635.04 L722.42 636.72 L723.56 638.38 L724.70 640.05 L725.84 641.72 L726.98 643.38 L728.13 645.04 L729.29 646.70 L730.44 648.35 L731.60 650.00 L732.76 651.65 L733.93 653.30 L735.09 654.94 L736.27 656.59 L737.44 658.23 L738.62 659.86 L739.80 661.50 L740.98 663.13 L742.17 664.76 L743.36 666.38 L744.56 668.01 L745.76 669.63 L746.96 671.24 L748.17 672.86 L749.38 674.47 L750.59 676.08 L751.80 677.68 L753.02 679.29 L754.25 680.88 L755.47 682.48 L756.70 684.07 L757.94 685.66 L759.17 687.25 L760.42 688.83 L761.66 690.41 L762.91 691.99 L764.16 693.56 L765.42 695.13 L766.68 696.70 L767.94 698.26 L769.21 699.82 L770.48 701.38 L771.75 702.93 L773.03 704.48 L774.31 706.02 L775.60 707.56 L776.89 709.10 L778.18 710.64 L779.48 712.17 L780.78 713.69 L782.09 715.22 L783.40 716.74 L784.71 718.25 L786.03 719.76 L787.35 721.27 L788.68 722.77 L790.01 724.27 L791.34 725.77 L792.68 727.26 L794.02 728.75 L795.37 730.23 L796.72 731.71 L798.07 733.18 L799.43 734.65 L800.79 736.12 L802.16 737.58 L803.53 739.04 L804.91 740.49 L806.29 741.94 L807.67 743.38 L809.06 744.82 L810.45 746.26 L811.85 747.69 L813.25 749.12 L814.65 750.54 L816.06 751.95 L817.48 753.37 L818.89 754.77 L820.32 756.18 L821.74 757.58 L823.18 758.97 L824.61 760.36 L826.05 761.74 L827.50 763.12 L828.95 764.50 L830.40 765.86 L831.86 767.23 L833.32 768.59 L834.79 769.94 L836.26 771.29 L837.74 772.63 L839.22 773.97 L840.71 775.31 L842.20 776.64 L843.69 777.96 L845.19 779.28 L846.70 780.59 L848.21 781.90 L849.72 783.20 L851.24 784.49 L852.77 785.79 L854.29 787.07 L855.83 788.35 L857.37 789.63 L858.91 790.90 L860.46 792.16 L862.01 793.42 L863.57 794.67 L865.13 795.92 L866.70 797.16 L868.27 798.39 L869.85 799.62 L871.43 800.84 L873.02 802.06 L874.61 803.27 L876.21 804.48 L877.81 805.68 L879.42 806.87 L881.03 808.06 L882.65 809.24 L884.27 810.42 L885.90 811.59 L887.54 812.75 L889.17 813.91 L890.82 815.06 L892.47 816.20 L894.12 817.34 L895.78 818.47 L897.45 819.60 L899.12 820.72 L900.79 821.83 L902.47 822.94 L904.16 824.04 L905.85 825.13 L907.54 826.22 L909.25 827.30 L910.95 828.38 L912.67 829.44 L914.38 830.50 L916.11 831.56 L917.84 832.60 L919.57 833.65 L921.31 834.68 L923.06 835.71 L924.81 836.73 L926.56 837.74 L928.33 838.75 L930.09 839.75 L931.87 840.74 L933.65 841.72 L935.43 842.70 L937.22 843.67 L939.02 844.64 L940.82 845.59 L942.63 846.54 L944.44 847.49 L946.26 848.42 L948.08 849.35 L949.91 850.27 L951.75 851.18 L953.59 852.09 L955.44 852.99 L957.29 853.88 L959.15 854.76 L961.02 855.64 L962.89 856.51 L964.76 857.37 L966.65 858.22 L968.53 859.07 L970.43 859.91 L972.33 860.74 L974.24 861.56 L976.15 862.37 L978.07 863.18 L979.99 863.98 L981.92 864.77 L983.86 865.56 L985.80 866.33 L987.75 867.10 L989.71 867.86 L991.67 868.61 L993.64 869.35 L995.61 870.09 L997.59 870.82 L1006.96 874.31" stroke="#000000" stroke-width="1.8" fill="none" stroke-linejoin="round"/>
<path d="M129.64 894.99 L131.63 885.19 L132.04 883.13 L132.46 881.08 L132.88 879.03 L133.29 876.97 L133.71 874.92 L134.12 872.86 L134.54 870.81 L134.95 868.75 L135.37 866.70 L135.78 864.64 L136.20 862.59 L136.61 860.53 L137.02 858.48 L137.44 856.42 L137.85 854.36 L138.27 852.30 L138.68 850.25 L139.09 848.19 L139.51 846.13 L139.92 844.07 L140.33 842.01 L140.75 839.95 L141.16 837.90 L141.57 835.84 L141.99 833.78 L142.40 831.72 L142.81 829.66 L143.23 827.60 L143.64 825.54 L144.05 823.48 L144.47 821.41 L144.88 819.35 L145.29 817.29 L145.70 815.23 L146.12 813.17 L146.53 811.11 L146.94 809.05 L147.35 806.98 L147.77 804.92 L148.18 802.86 L148.59 800.80 L149.01 798.73 L149.42 796.67 L149.83 794.61 L150.25 792.55 L150.66 790.48 L151.07 788.42 L151.48 786.36 L151.90 784.29 L152.31 782.23 L152.72 780.16 L153.14 778.10 L153.55 776.04 L153.97 773.97 L154.38 771.91 L154.79 769.84 L155.21 767.78 L155.62 765.72 L156.03 763.65 L156.45 761.59 L156.86 759.52 L157.28 757.46 L157.69 755.39 L158.11 753.33 L158.52 751.26 L158.94 749.20 L159.35 747.13 L159.77 745.07 L160.19 743.00 L160.60 740.94 L161.02 738.87 L161.43 736.81 L161.85 734.74 L162.27 732.68 L162.68 730.61 L163.10 728.55 L163.52 726.48 L163.94 724.42 L164.35 722.35 L164.77 720.29 L165.19 718.22 L165.61 716.16 L166.03 714.09 L166.45 712.03 L166.87 709.97 L167.29 707.90 L167.71 705.84 L168.13 703.77 L168.55 701.71 L168.97 699.64 L169.39 697.58 L169.81 695.51 L170.23 693.45 L170.66 691.39 L171.08 689.32 L171.50 687.26 L171.92 685.19 L172.35 683.13 L172.77 681.07 L173.19 679.00 L173.62 676.94 L174.04 674.88 L174.47 672.81 L174.90 670.75 L175.32 668.69 L175.75 666.63 L176.17 664.56 L176.60 662.50 L177.03 660.44 L177.46 658.38 L177.89 656.31 L178.31 654.25 L178.74 652.19 L179.17 650.13 L179.60 648.07 L180.03 646.01 L180.47 643.95 L180.90 641.89 L181.33 639.83 L181.76 637.77 L182.19 635.71 L182.63 633.65 L183.06 631.59 L183.50 629.53 L183.93 627.47 L184.37 625.41 L184.80 623.35 L185.24 621.29 L185.68 619.23 L186.11 617.18 L186.55 615.12 L186.99 613.06 L187.43 611.00 L187.87 608.95 L188.31 606.89 L188.75 604.83 L189.19 602.78 L189.63 600.72 L190.07 598.67 L190.52 596.61 L190.96 594.56 L191.40 592.50 L191.85 590.45 L192.29 588.40 L192.74 586.34 L193.19 584.29 L193.63 582.24 L194.08 580.18 L194.53 578.13 L194.98 576.08 L195.43 574.03 L195.88 571.98 L196.33 569.93 L196.78 567.88 L197.23 565.82 L197.69 563.78 L198.14 561.73 L198.59 559.68 L199.05 557.63 L199.50 555.58 L199.96 553.53 L200.42 551.48 L200.88 549.44 L201.33 547.39 L201.79 545.34 L202.25 543.30 L202.71 541.25 L203.18 539.21 L203.64 537.16 L204.10 535.12 L204.56 533.08 L205.03 531.03 L205.49 528.99 L205.96 526.95 L206.43 524.91 L206.90 522.86 L207.36 520.82 L207.83 518.78 L208.31 516.74 L208.78 514.70 L209.25 512.66 L209.72 510.62 L210.20 508.58 L210.67 506.54 L211.15 504.51 L211.63 502.47 L212.10 500.43 L212.58 498.39 L213.06 496.36 L213.54 494.32 L214.03 492.29 L214.51 490.25 L214.99 488.22 L215.48 486.18 L215.97 484.15 L216.45 482.11 L216.94 480.08 L217.43 478.05 L217.92 476.01 L218.41 473.98 L218.91 471.95 L219.40 469.92 L219.90 467.89 L220.39 465.86 L220.89 463.83 L221.39 461.80 L221.89 459.77 L222.39 457.74 L222.90 455.71 L223.40 453.69 L223.91 451.66 L224.41 449.63 L224.92 447.60 L225.43 445.58 L225.94 443.55 L226.45 441.53 L226.97 439.50 L227.48 437.48 L228.00 435.45 L228.51 433.43 L229.03 431.40 L229.55 429.38 L230.07 427.36 L230.60 425.34 L231.12 423.31 L231.65 421.29 L232.17 419.27 L232.70 417.25 L233.23 415.23 L233.77 413.21 L234.30 411.19 L234.83 409.17 L235.37 407.16 L235.91 405.14 L236.45 403.12 L236.99 401.10 L237.53 399.08 L238.08 397.07 L238.62 395.05 L239.17 393.04 L239.72 391.02 L240.27 389.01 L240.82 386.99 L241.37 384.98 L241.93 382.96 L242.49 380.95 L243.05 378.94 L243.61 376.93 L244.17 374.91 L244.73 372.90 L245.30 370.89 L245.87 368.88 L246.44 366.87 L247.01 364.86 L247.58 362.85 L248.16 360.84 L248.73 358.83 L249.31 356.82 L249.89 354.82 L250.47 352.81 L251.06 350.80 L251.64 348.80 L252.23 346.79 L252.82 344.78 L253.41 342.78 L254.01 340.77 L254.60 338.77 L255.20 336.76 L255.80 334.76 L256.40 332.76 L257.00 330.75 L257.61 328.75 L258.22 326.75 L258.83 324.75 L259.44 322.75 L260.05 320.75 L260.67 318.74 L261.28 316.74 L261.90 314.74 L262.53 312.75 L263.15 310.75 L263.78 308.75 L264.40 306.75 L265.03 304.75 L265.67 302.76 L266.30 300.76 L266.94 298.76 L267.58 296.77 L268.22 294.77 L268.86 292.78 L269.51 290.78 L270.15 288.79 L270.80 286.79 L271.46 284.80 L272.11 282.81 L272.77 280.81 L273.43 278.82 L274.09 276.83 L274.75 274.84 L275.42 272.85 L276.09 270.86 L276.76 268.87 L277.43 266.88 L278.11 264.89 L278.78 262.90 L279.46 260.91 L280.15 258.92 L280.83 256.93 L281.52 254.95 L282.21 252.96 L282.90 250.97 L283.60 248.99 L284.29 247.00 L284.99 245.02 L285.70 243.03 L286.40 241.05 L287.11 239.06 L287.82 237.08 L288.53 235.10 L289.25 233.11 L289.96 231.13 L290.68 229.15 L291.41 227.17 L292.13 225.19 L292.86 223.21 L293.59 221.23 L294.32 219.25 L295.06 217.27 L295.80 215.29 L296.54 213.31 L297.28 211.33 L298.03 209.35 L298.78 207.38 L299.53 205.40 L300.29 203.42 L301.04 201.45 L301.81 199.47 L302.57 197.49 L303.34 195.52 L304.11 193.55 L304.88 191.57 L305.66 189.60 L306.44 187.64 L307.22 185.67 L308.02 183.70 L308.81 181.74 L309.61 179.78 L310.42 177.83 L311.23 175.87 L312.05 173.92 L312.88 171.98 L313.71 170.03 L314.55 168.10 L315.40 166.16 L316.25 164.23 L317.11 162.31 L317.98 160.39 L318.86 158.48 L319.75 156.57 L320.64 154.67 L321.55 152.77 L322.46 150.88 L323.39 149.00 L324.32 147.13 L325.27 145.26 L326.22 143.40 L327.19 141.54 L328.16 139.70 L329.15 137.86 L330.15 136.03 L331.16 134.21 L332.19 132.40 L333.22 130.60 L334.27 128.80 L335.33 127.02 L336.41 125.25 L337.50 123.48 L338.60 121.73 L339.72 119.99 L340.85 118.26 L341.99 116.54 L343.15 114.83 L344.33 113.13 L345.52 111.44 L346.73 109.77 L347.95 108.11 L349.19 106.46 L350.45 104.82 L351.72 103.20 L353.01 101.59 L354.31 100.00 L355.64 98.41 L356.98 96.84 L358.34 95.29 L359.72 93.75 L361.12 92.23 L362.54 90.72 L363.98 89.23 L365.45 87.78 L366.96 86.37 L368.52 85.02 L370.12 83.72 L371.78 82.50 L373.51 81.37 L375.30 80.32 L377.18 79.38 L379.12 78.54 L381.13 77.81 L383.19 77.19 L385.30 76.66 L387.44 76.24 L389.59 75.92 L391.77 75.70 L393.94 75.58 L396.10 75.55 L398.25 75.62 L400.36 75.79 L402.44 76.04 L404.47 76.39 L406.45 76.83 L408.39 77.36 L410.29 77.97 L412.15 78.65 L413.97 79.42 L415.75 80.26 L417.50 81.17 L419.21 82.14 L420.89 83.18 L422.53 84.29 L424.14 85.45 L425.73 86.66 L427.28 87.93 L428.81 89.25 L430.31 90.62 L431.79 92.03 L433.25 93.48 L434.68 94.96 L436.09 96.48 L437.49 98.04 L438.87 99.62 L440.23 101.22 L441.57 102.85 L442.91 104.50 L444.23 106.16 L445.54 107.84 L446.84 109.52 L448.14 111.22 L449.42 112.91 L450.70 114.61 L451.98 116.32 L453.25 118.03 L454.51 119.74 L455.77 121.45 L457.02 123.16 L458.26 124.88 L459.50 126.60 L460.74 128.33 L461.97 130.05 L463.19 131.78 L464.41 133.51 L465.62 135.25 L466.83 136.99 L468.03 138.73 L469.22 140.47 L470.42 142.22 L471.60 143.96 L472.78 145.71 L473.96 147.47 L475.13 149.22 L476.29 150.98 L477.45 152.74 L478.61 154.51 L479.76 156.27 L480.90 158.04 L482.04 159.81 L483.18 161.58 L484.31 163.36 L485.44 165.14 L486.56 166.92 L487.68 168.70 L488.79 170.48 L489.90 172.27 L491.00 174.06 L492.10 175.85 L493.20 177.64 L494.29 179.44 L495.38 181.23 L496.46 183.03 L497.54 184.84 L498.61 186.64 L499.68 188.44 L500.75 190.25 L501.81 192.06 L502.87 193.87 L503.93 195.69 L504.98 197.50 L506.03 199.32 L507.07 201.14 L508.11 202.96 L509.15 204.78 L510.18 206.61 L511.21 208.43 L512.24 210.26 L513.26 212.09 L514.28 213.92 L515.30 215.76 L516.31 217.59 L517.32 219.43 L518.33 221.27 L519.33 223.11 L520.33 224.95 L521.33 226.79 L522.32 228.64 L523.31 230.48 L524.30 232.33 L525.29 234.18 L526.27 236.03 L527.25 237.88 L528.23 239.73 L529.20 241.59 L530.18 243.44 L531.15 245.30 L532.12 247.16 L533.08 249.02 L534.04 250.88 L535.00 252.74 L535.96 254.60 L536.92 256.47 L537.87 258.33 L538.82 260.20 L539.77 262.07 L540.72 263.94 L541.67 265.81 L542.61 267.68 L543.55 269.55 L544.49 271.42 L545.43 273.30 L546.37 275.17 L547.30 277.05 L548.23 278.93 L549.16 280.80 L550.09 282.68 L551.02 284.56 L551.95 286.44 L552.87 288.32 L553.80 290.21 L554.72 292.09 L555.64 293.97 L556.56 295.86 L557.48 297.74 L558.40 299.63 L559.32 301.51 L560.23 303.40 L561.15 305.29 L562.06 307.17 L562.97 309.06 L563.89 310.95 L564.80 312.84 L565.71 314.73 L566.62 316.62 L567.53 318.51 L568.44 320.40 L569.34 322.29 L570.25 324.18 L571.16 326.08 L572.07 327.97 L572.97 329.86 L573.88 331.75 L574.79 333.65 L575.69 335.54 L576.60 337.43 L577.50 339.33 L578.41 341.22 L579.31 343.12 L580.22 345.01 L581.12 346.90 L582.03 348.80 L582.93 350.69 L583.84 352.59 L584.75 354.48 L585.65 356.38 L586.56 358.27 L587.47 360.16 L588.37 362.06 L589.28 363.95 L590.19 365.85 L591.10 367.74 L592.01 369.64 L592.92 371.53 L593.83 373.42 L594.74 375.32 L595.65 377.21 L596.56 379.10 L597.47 381.00 L598.38 382.89 L599.29 384.78 L600.21 386.67 L601.12 388.57 L602.04 390.46 L602.95 392.35 L603.87 394.24 L604.78 396.13 L605.70 398.03 L606.62 399.92 L607.54 401.81 L608.46 403.70 L609.38 405.59 L610.30 407.48 L611.22 409.37 L612.14 411.25 L613.07 413.14 L613.99 415.03 L614.92 416.92 L615.84 418.81 L616.77 420.69 L617.70 422.58 L618.63 424.47 L619.56 426.35 L620.49 428.24 L621.42 430.12 L622.35 432.01 L623.29 433.89 L624.22 435.77 L625.16 437.66 L626.10 439.54 L627.04 441.42 L627.98 443.30 L628.92 445.18 L629.86 447.06 L630.80 448.94 L631.75 450.82 L632.69 452.70 L633.64 454.57 L634.59 456.45 L635.54 458.33 L636.49 460.20 L637.45 462.08 L638.40 463.95 L639.36 465.82 L640.31 467.70 L641.27 469.57 L642.23 471.44 L643.19 473.31 L644.16 475.18 L645.12 477.05 L646.09 478.92 L647.05 480.79 L648.02 482.65 L649.00 484.52 L649.97 486.38 L650.94 488.25 L651.92 490.11 L652.90 491.97 L653.88 493.83 L654.86 495.69 L655.84 497.55 L656.82 499.41 L657.81 501.27 L658.80 503.13 L659.79 504.98 L660.78 506.84 L661.78 508.69 L662.77 510.55 L663.77 512.40 L664.77 514.25 L665.77 516.10 L666.77 517.95 L667.78 519.80 L668.79 521.64 L669.80 523.49 L670.81 525.33 L671.82 527.18 L672.84 529.02 L673.86 530.86 L674.88 532.70 L675.90 534.54 L676.93 536.38 L677.95 538.21 L678.98 540.05 L680.01 541.88 L681.05 543.72 L682.08 545.55 L683.12 547.38 L684.16 549.21 L685.20 551.04 L686.25 552.87 L687.30 554.69 L688.35 556.52 L689.40 558.34 L690.45 560.16 L691.51 561.98 L692.57 563.80 L693.63 565.62 L694.70 567.44 L695.77 569.25 L696.84 571.06 L697.91 572.88 L698.98 574.69 L700.06 576.50 L701.14 578.31 L702.22 580.11 L703.31 581.92 L704.40 583.72 L705.49 585.52 L706.58 587.32 L707.68 589.12 L708.78 590.92 L709.88 592.72 L710.99 594.51 L712.10 596.31 L713.21 598.10 L714.32 599.89 L715.44 601.68 L716.56 603.46 L717.68 605.25 L718.81 607.03 L719.93 608.81 L721.07 610.59 L722.20 612.37 L723.34 614.15 L724.48 615.92 L725.62 617.70 L726.77 619.47 L727.92 621.24 L729.07 623.01 L730.23 624.78 L731.39 626.54 L732.55 628.30 L733.72 630.06 L734.89 631.82 L736.06 633.58 L737.23 635.34 L738.41 637.09 L739.60 638.84 L740.78 640.59 L741.97 642.33 L743.16 644.08 L744.36 645.82 L745.56 647.56 L746.76 649.30 L747.97 651.03 L749.18 652.76 L750.39 654.49 L751.61 656.22 L752.83 657.94 L754.06 659.66 L755.28 661.38 L756.51 663.10 L757.75 664.81 L758.99 666.52 L760.23 668.23 L761.48 669.93 L762.73 671.64 L763.98 673.34 L765.24 675.03 L766.50 676.72 L767.77 678.41 L769.04 680.10 L770.31 681.78 L771.59 683.46 L772.87 685.14 L774.15 686.81 L775.44 688.48 L776.74 690.14 L778.03 691.81 L779.33 693.46 L780.64 695.12 L781.95 696.77 L783.26 698.42 L784.58 700.06 L785.90 701.70 L787.23 703.34 L788.56 704.97 L789.89 706.60 L791.23 708.23 L792.57 709.85 L793.92 711.46 L795.27 713.08 L796.63 714.68 L797.99 716.29 L799.35 717.89 L800.72 719.48 L802.09 721.07 L803.47 722.66 L804.85 724.24 L806.24 725.82 L807.63 727.40 L809.03 728.97 L810.43 730.53 L811.83 732.09 L813.24 733.65 L814.65 735.20 L816.07 736.74 L817.50 738.28 L818.92 739.82 L820.36 741.35 L821.79 742.88 L823.24 744.40 L824.68 745.92 L826.13 747.43 L827.59 748.93 L829.05 750.43 L830.52 751.93 L831.99 753.42 L833.47 754.91 L834.95 756.39 L836.43 757.86 L837.92 759.33 L839.42 760.80 L840.92 762.25 L842.42 763.71 L843.94 765.15 L845.45 766.60 L846.97 768.03 L848.50 769.46 L850.03 770.89 L851.57 772.31 L853.11 773.72 L854.65 775.12 L856.21 776.53 L857.76 777.92 L859.33 779.31 L860.89 780.69 L862.47 782.07 L864.04 783.44 L865.63 784.80 L867.22 786.16 L868.81 787.51 L870.41 788.86 L872.02 790.20 L873.63 791.53 L875.24 792.86 L876.87 794.18 L878.49 795.49 L880.13 796.80 L881.76 798.10 L883.41 799.39 L885.06 800.68 L886.71 801.96 L888.37 803.23 L890.04 804.50 L891.71 805.76 L893.39 807.01 L895.07 808.25 L896.76 809.49 L898.46 810.72 L900.16 811.95 L901.87 813.16 L903.58 814.37 L905.30 815.58 L907.02 816.77 L908.75 817.96 L910.49 819.14 L912.23 820.31 L913.98 821.48 L915.74 822.64 L917.50 823.79 L919.26 824.93 L921.03 826.06 L922.81 827.19 L924.60 828.31 L926.39 829.42 L928.19 830.53 L929.99 831.62 L931.80 832.71 L933.61 833.79 L935.44 834.86 L937.26 835.93 L939.10 836.98 L940.94 838.03 L942.79 839.07 L944.64 840.10 L946.50 841.12 L948.37 842.14 L950.24 843.15 L952.12 844.14 L954.00 845.13 L955.90 846.11 L957.79 847.09 L959.70 848.05 L961.61 849.01 L963.53 849.95 L965.45 850.89 L967.39 851.82 L969.32 852.74 L971.27 853.65 L973.22 854.55 L975.18 855.45 L977.14 856.33 L979.11 857.21 L981.09 858.08 L983.08 858.93 L985.07 859.78 L987.07 860.62 L989.07 861.45 L991.09 862.27 L993.11 863.08 L995.13 863.89 L997.17 864.68 L1006.46 868.36" stroke="#0000ff" stroke-width="1.8" fill="none" stroke-linejoin="round"/>
</g>
<g clip-path="url(#cr)">
<path d="M1177.39 894.40 L1180.97 885.06 L1181.52 883.64 L1182.07 882.22 L1182.61 880.80 L1183.16 879.38 L1183.70 877.96 L1184.24 876.54 L1184.77 875.12 L1185.31 873.70 L1185.85 872.28 L1186.38 870.86 L1186.91 869.44 L1187.44 868.02 L1187.97 866.60 L1188.50 865.18 L1189.03 863.76 L1189.55 862.34 L1190.08 860.92 L1190.60 859.50 L1191.12 858.08 L1191.65 856.66 L1192.17 855.24 L1192.69 853.82 L1193.20 852.41 L1193.72 850.99 L1194.24 849.57 L1194.75 848.15 L1195.26 846.73 L1195.78 845.32 L1196.29 843.90 L1196.80 842.48 L1197.31 841.06 L1197.82 839.65 L1198.33 838.23 L1198.84 836.81 L1199.34 835.40 L1199.85 833.98 L1200.36 832.56 L1200.86 831.15 L1201.37 829.73 L1201.87 828.31 L1202.37 826.90 L1202.88 825.48 L1203.38 824.07 L1203.88 822.65 L1204.38 821.24 L1204.88 819.82 L1205.38 818.41 L1205.88 816.99 L1206.38 815.58 L1206.88 814.16 L1207.38 812.75 L1207.88 811.33 L1208.38 809.92 L1208.88 808.50 L1209.38 807.09 L1209.87 805.67 L1210.37 804.26 L1210.87 802.85 L1211.37 801.43 L1211.86 800.02 L1212.36 798.60 L1212.86 797.19 L1213.36 795.78 L1213.85 794.37 L1214.35 792.95 L1214.85 791.54 L1215.35 790.13 L1215.85 788.71 L1216.34 787.30 L1216.84 785.89 L1217.34 784.48 L1217.84 783.06 L1218.34 781.65 L1218.84 780.24 L1219.34 778.83 L1219.84 777.42 L1220.34 776.00 L1220.84 774.59 L1221.34 773.18 L1221.85 771.77 L1222.35 770.36 L1222.85 768.95 L1223.36 767.54 L1223.86 766.13 L1224.36 764.72 L1224.87 763.31 L1225.38 761.89 L1225.88 760.48 L1226.39 759.07 L1226.90 757.66 L1227.41 756.25 L1227.92 754.84 L1228.43 753.43 L1228.94 752.02 L1229.45 750.61 L1229.97 749.21 L1230.48 747.80 L1231.00 746.39 L1231.51 744.98 L1232.03 743.57 L1232.55 742.16 L1233.07 740.75 L1233.59 739.34 L1234.11 737.93 L1234.63 736.52 L1235.16 735.12 L1235.68 733.71 L1236.20 732.30 L1236.73 730.89 L1237.26 729.48 L1237.78 728.08 L1238.31 726.67 L1238.84 725.26 L1239.37 723.86 L1239.90 722.45 L1240.43 721.04 L1240.96 719.64 L1241.50 718.23 L1242.03 716.82 L1242.57 715.42 L1243.10 714.01 L1243.64 712.61 L1244.18 711.20 L1244.72 709.80 L1245.26 708.39 L1245.80 706.99 L1246.34 705.58 L1246.88 704.18 L1247.42 702.78 L1247.96 701.37 L1248.51 699.97 L1249.05 698.57 L1249.60 697.16 L1250.15 695.76 L1250.69 694.36 L1251.24 692.96 L1251.79 691.55 L1252.34 690.15 L1252.89 688.75 L1253.44 687.35 L1254.00 685.95 L1254.55 684.55 L1255.10 683.15 L1255.66 681.75 L1256.21 680.35 L1256.77 678.95 L1257.32 677.55 L1257.88 676.15 L1258.44 674.75 L1259.00 673.36 L1259.56 671.96 L1260.12 670.56 L1260.68 669.17 L1261.24 667.77 L1261.81 666.37 L1262.37 664.98 L1262.93 663.58 L1263.50 662.19 L1264.07 660.79 L1264.63 659.40 L1265.20 658.00 L1265.77 656.61 L1266.34 655.22 L1266.91 653.82 L1267.48 652.43 L1268.05 651.04 L1268.62 649.65 L1269.19 648.25 L1269.76 646.86 L1270.34 645.47 L1270.91 644.08 L1271.49 642.69 L1272.06 641.30 L1272.64 639.91 L1273.21 638.53 L1273.79 637.14 L1274.37 635.75 L1274.95 634.36 L1275.53 632.98 L1276.11 631.59 L1276.69 630.20 L1277.27 628.82 L1277.85 627.43 L1278.44 626.05 L1279.02 624.66 L1279.60 623.28 L1280.19 621.90 L1280.77 620.51 L1281.36 619.13 L1281.95 617.75 L1282.53 616.37 L1283.12 614.99 L1283.71 613.61 L1284.30 612.23 L1284.89 610.85 L1285.48 609.47 L1286.07 608.09 L1286.66 606.71 L1287.25 605.34 L1287.85 603.96 L1288.44 602.58 L1289.03 601.21 L1289.63 599.83 L1290.22 598.46 L1290.82 597.08 L1291.42 595.71 L1292.02 594.34 L1292.62 592.96 L1293.22 591.59 L1293.82 590.22 L1294.42 588.85 L1295.02 587.48 L1295.62 586.10 L1296.23 584.73 L1296.83 583.36 L1297.44 582.00 L1298.05 580.63 L1298.66 579.26 L1299.27 577.89 L1299.88 576.52 L1300.49 575.16 L1301.10 573.79 L1301.72 572.42 L1302.34 571.06 L1302.95 569.69 L1303.57 568.33 L1304.19 566.96 L1304.81 565.60 L1305.43 564.23 L1306.06 562.87 L1306.68 561.51 L1307.31 560.14 L1307.94 558.78 L1308.57 557.42 L1309.20 556.06 L1309.83 554.70 L1310.46 553.34 L1311.10 551.98 L1311.74 550.61 L1312.37 549.26 L1313.01 547.90 L1313.66 546.54 L1314.30 545.18 L1314.94 543.82 L1315.59 542.46 L1316.24 541.10 L1316.89 539.75 L1317.54 538.39 L1318.20 537.03 L1318.85 535.68 L1319.51 534.32 L1320.17 532.97 L1320.83 531.61 L1321.49 530.25 L1322.16 528.90 L1322.82 527.55 L1323.49 526.19 L1324.16 524.84 L1324.84 523.48 L1325.51 522.13 L1326.19 520.78 L1326.87 519.42 L1327.55 518.07 L1328.23 516.72 L1328.92 515.37 L1329.61 514.02 L1330.30 512.67 L1330.99 511.31 L1331.68 509.96 L1332.38 508.61 L1333.08 507.26 L1333.78 505.91 L1334.48 504.56 L1335.19 503.21 L1335.90 501.86 L1336.61 500.52 L1337.32 499.17 L1338.04 497.82 L1338.76 496.47 L1339.48 495.13 L1340.21 493.78 L1340.93 492.44 L1341.67 491.10 L1342.40 489.76 L1343.14 488.43 L1343.88 487.09 L1344.63 485.76 L1345.38 484.43 L1346.14 483.10 L1346.90 481.78 L1347.66 480.46 L1348.43 479.14 L1349.21 477.83 L1349.99 476.52 L1350.77 475.21 L1351.56 473.91 L1352.35 472.61 L1353.15 471.32 L1353.96 470.03 L1354.77 468.75 L1355.58 467.47 L1356.41 466.20 L1357.23 464.93 L1358.07 463.66 L1358.91 462.41 L1359.76 461.16 L1360.61 459.91 L1361.47 458.67 L1362.34 457.44 L1363.21 456.21 L1364.10 454.99 L1364.99 453.78 L1365.88 452.57 L1366.79 451.38 L1367.70 450.18 L1368.62 449.00 L1369.54 447.83 L1370.48 446.66 L1371.42 445.50 L1372.37 444.35 L1373.33 443.21 L1374.30 442.07 L1375.28 440.95 L1376.26 439.83 L1377.26 438.73 L1378.26 437.63 L1379.27 436.54 L1380.30 435.47 L1381.33 434.40 L1382.37 433.34 L1383.42 432.30 L1384.48 431.26 L1385.55 430.23 L1386.63 429.22 L1387.72 428.22 L1388.82 427.22 L1389.94 426.24 L1391.06 425.27 L1392.19 424.32 L1393.34 423.37 L1394.49 422.44 L1395.66 421.52 L1396.84 420.61 L1398.02 419.71 L1399.22 418.83 L1400.44 417.96 L1401.66 417.10 L1402.90 416.26 L1404.14 415.43 L1405.40 414.62 L1406.68 413.82 L1407.96 413.04 L1409.25 412.28 L1410.56 411.54 L1411.87 410.82 L1413.20 410.12 L1414.53 409.45 L1415.88 408.81 L1417.23 408.19 L1418.59 407.60 L1419.97 407.04 L1421.35 406.51 L1422.74 406.01 L1424.14 405.55 L1425.55 405.12 L1426.96 404.73 L1428.39 404.38 L1429.82 404.06 L1431.25 403.78 L1432.69 403.54 L1434.14 403.33 L1435.59 403.16 L1437.04 403.03 L1438.50 402.93 L1439.96 402.87 L1441.42 402.85 L1442.88 402.86 L1444.34 402.91 L1445.80 402.99 L1447.25 403.11 L1448.71 403.27 L1450.16 403.46 L1451.61 403.68 L1453.05 403.94 L1454.49 404.24 L1455.92 404.56 L1457.34 404.93 L1458.76 405.32 L1460.18 405.74 L1461.59 406.20 L1462.99 406.69 L1464.39 407.20 L1465.78 407.75 L1467.16 408.32 L1468.54 408.91 L1469.91 409.54 L1471.28 410.18 L1472.64 410.85 L1473.99 411.55 L1475.34 412.26 L1476.68 413.00 L1478.02 413.76 L1479.35 414.53 L1480.67 415.33 L1481.98 416.14 L1483.29 416.97 L1484.60 417.82 L1485.89 418.68 L1487.18 419.55 L1488.46 420.44 L1489.74 421.34 L1491.01 422.26 L1492.27 423.18 L1493.53 424.11 L1494.78 425.06 L1496.02 426.01 L1497.25 426.97 L1498.48 427.93 L1499.70 428.90 L1500.92 429.88 L1502.12 430.85 L1503.32 431.84 L1504.51 432.82 L1505.70 433.81 L1506.88 434.80 L1508.05 435.79 L1509.21 436.79 L1510.37 437.79 L1511.52 438.79 L1512.67 439.79 L1513.81 440.80 L1514.94 441.81 L1516.06 442.83 L1517.18 443.84 L1518.30 444.86 L1519.40 445.88 L1520.51 446.91 L1521.60 447.94 L1522.69 448.97 L1523.78 450.00 L1524.86 451.04 L1525.93 452.08 L1527.00 453.13 L1528.06 454.17 L1529.12 455.22 L1530.17 456.28 L1531.22 457.33 L1532.26 458.39 L1533.30 459.46 L1534.34 460.52 L1535.37 461.59 L1536.39 462.66 L1537.41 463.74 L1538.43 464.82 L1539.44 465.90 L1540.45 466.99 L1541.45 468.08 L1542.45 469.17 L1543.44 470.26 L1544.44 471.36 L1545.42 472.47 L1546.41 473.57 L1547.39 474.68 L1548.37 475.80 L1549.34 476.91 L1550.31 478.03 L1551.28 479.16 L1552.24 480.28 L1553.20 481.41 L1554.16 482.55 L1555.12 483.69 L1556.07 484.83 L1557.02 485.97 L1557.97 487.12 L1558.92 488.28 L1559.86 489.43 L1560.80 490.59 L1561.74 491.76 L1562.67 492.92 L1563.61 494.09 L1564.54 495.26 L1565.48 496.44 L1566.41 497.62 L1567.34 498.80 L1568.27 499.98 L1569.20 501.16 L1570.13 502.34 L1571.06 503.53 L1571.99 504.71 L1572.92 505.90 L1573.85 507.09 L1574.78 508.27 L1575.71 509.46 L1576.65 510.65 L1577.58 511.83 L1578.52 513.02 L1579.46 514.21 L1580.39 515.39 L1581.33 516.58 L1582.27 517.76 L1583.21 518.95 L1584.15 520.13 L1585.09 521.32 L1586.03 522.50 L1586.97 523.68 L1587.91 524.87 L1588.85 526.05 L1589.79 527.23 L1590.73 528.41 L1591.66 529.59 L1592.60 530.77 L1593.54 531.96 L1594.47 533.14 L1595.41 534.32 L1596.34 535.49 L1597.27 536.67 L1598.20 537.85 L1599.13 539.03 L1600.06 540.21 L1600.99 541.38 L1601.91 542.56 L1602.83 543.74 L1603.75 544.91 L1604.68 546.09 L1605.59 547.26 L1606.51 548.44 L1607.43 549.61 L1608.35 550.78 L1609.26 551.96 L1610.18 553.13 L1611.09 554.30 L1612.00 555.48 L1612.92 556.65 L1613.83 557.83 L1614.74 559.00 L1615.65 560.17 L1616.56 561.35 L1617.47 562.52 L1618.38 563.69 L1619.30 564.87 L1620.21 566.04 L1621.12 567.22 L1622.03 568.39 L1622.94 569.57 L1623.85 570.74 L1624.77 571.92 L1625.68 573.10 L1626.60 574.27 L1627.51 575.45 L1628.42 576.63 L1629.34 577.81 L1630.26 578.98 L1631.17 580.16 L1632.09 581.34 L1633.01 582.52 L1633.92 583.70 L1634.84 584.88 L1635.76 586.06 L1636.68 587.24 L1637.60 588.42 L1638.52 589.60 L1639.44 590.78 L1640.37 591.96 L1641.29 593.14 L1642.21 594.32 L1643.14 595.50 L1644.06 596.68 L1644.99 597.86 L1645.91 599.04 L1646.84 600.22 L1647.77 601.40 L1648.70 602.58 L1649.62 603.76 L1650.55 604.94 L1651.48 606.12 L1652.42 607.29 L1653.35 608.47 L1654.28 609.65 L1655.21 610.83 L1656.15 612.01 L1657.08 613.19 L1658.02 614.37 L1658.95 615.55 L1659.89 616.72 L1660.83 617.90 L1661.77 619.08 L1662.71 620.26 L1663.65 621.43 L1664.59 622.61 L1665.53 623.78 L1666.48 624.96 L1667.42 626.13 L1668.37 627.31 L1669.31 628.48 L1670.26 629.66 L1671.21 630.83 L1672.15 632.00 L1673.10 633.17 L1674.06 634.35 L1675.01 635.52 L1675.96 636.69 L1676.91 637.86 L1677.87 639.03 L1678.82 640.20 L1679.78 641.36 L1680.74 642.53 L1681.70 643.70 L1682.66 644.86 L1683.62 646.03 L1684.58 647.19 L1685.54 648.36 L1686.51 649.52 L1687.47 650.68 L1688.44 651.84 L1689.40 653.00 L1690.37 654.16 L1691.34 655.32 L1692.31 656.48 L1693.28 657.64 L1694.26 658.79 L1695.23 659.95 L1696.21 661.10 L1697.18 662.26 L1698.16 663.41 L1699.14 664.56 L1700.12 665.71 L1701.10 666.86 L1702.08 668.01 L1703.07 669.16 L1704.05 670.30 L1705.04 671.45 L1706.03 672.59 L1707.02 673.74 L1708.01 674.88 L1709.00 676.02 L1709.99 677.16 L1710.98 678.30 L1711.98 679.43 L1712.98 680.57 L1713.97 681.71 L1714.97 682.84 L1715.97 683.97 L1716.98 685.10 L1717.98 686.23 L1718.99 687.36 L1719.99 688.49 L1721.00 689.61 L1722.01 690.74 L1723.02 691.86 L1724.03 692.98 L1725.04 694.10 L1726.06 695.22 L1727.08 696.33 L1728.09 697.45 L1729.11 698.56 L1730.13 699.68 L1731.16 700.79 L1732.18 701.90 L1733.21 703.00 L1734.23 704.11 L1735.26 705.21 L1736.29 706.32 L1737.32 707.42 L1738.36 708.52 L1739.39 709.62 L1740.43 710.71 L1741.46 711.81 L1742.50 712.90 L1743.55 713.99 L1744.59 715.08 L1745.63 716.17 L1746.68 717.25 L1747.73 718.34 L1748.78 719.42 L1749.83 720.50 L1750.88 721.58 L1751.93 722.65 L1752.99 723.73 L1754.05 724.80 L1755.11 725.87 L1756.17 726.94 L1757.23 728.01 L1758.30 729.07 L1759.36 730.13 L1760.43 731.19 L1761.50 732.25 L1762.57 733.31 L1763.65 734.36 L1764.72 735.42 L1765.80 736.47 L1766.88 737.52 L1767.96 738.56 L1769.04 739.60 L1770.13 740.65 L1771.21 741.69 L1772.30 742.72 L1773.39 743.76 L1774.48 744.79 L1775.58 745.82 L1776.67 746.85 L1777.77 747.88 L1778.87 748.90 L1779.97 749.92 L1781.08 750.94 L1782.18 751.96 L1783.29 752.97 L1784.40 753.98 L1785.51 754.99 L1786.62 756.00 L1787.74 757.00 L1788.86 758.00 L1789.98 759.00 L1791.10 760.00 L1792.22 760.99 L1793.35 761.99 L1794.48 762.98 L1795.61 763.96 L1796.74 764.95 L1797.87 765.93 L1799.01 766.91 L1800.15 767.88 L1801.29 768.86 L1802.43 769.83 L1803.57 770.80 L1804.72 771.76 L1805.87 772.72 L1807.02 773.68 L1808.17 774.64 L1809.33 775.60 L1810.49 776.55 L1811.64 777.50 L1812.81 778.44 L1813.97 779.38 L1815.14 780.32 L1816.31 781.26 L1817.48 782.20 L1818.65 783.13 L1819.83 784.06 L1821.00 784.98 L1822.18 785.90 L1823.37 786.82 L1824.55 787.74 L1825.74 788.65 L1826.93 789.56 L1828.12 790.47 L1829.31 791.38 L1830.51 792.28 L1831.71 793.18 L1832.91 794.07 L1834.11 794.96 L1835.32 795.85 L1836.52 796.74 L1837.74 797.62 L1838.95 798.50 L1840.16 799.37 L1841.38 800.25 L1842.60 801.12 L1843.82 801.98 L1845.05 802.84 L1846.28 803.70 L1847.51 804.56 L1848.74 805.41 L1849.97 806.26 L1851.21 807.11 L1852.45 807.95 L1853.69 808.79 L1854.94 809.63 L1856.18 810.46 L1857.43 811.29 L1858.68 812.12 L1859.94 812.94 L1861.19 813.76 L1862.45 814.57 L1863.71 815.39 L1864.97 816.20 L1866.24 817.00 L1867.50 817.81 L1868.77 818.60 L1870.04 819.40 L1871.32 820.19 L1872.59 820.98 L1873.87 821.77 L1875.15 822.55 L1876.44 823.33 L1877.72 824.10 L1879.01 824.87 L1880.30 825.64 L1881.59 826.41 L1882.88 827.17 L1884.18 827.93 L1885.47 828.68 L1886.77 829.43 L1888.07 830.18 L1889.38 830.92 L1890.68 831.66 L1891.99 832.40 L1893.30 833.13 L1894.61 833.86 L1895.93 834.59 L1897.24 835.31 L1898.56 836.03 L1899.88 836.75 L1901.20 837.46 L1902.53 838.17 L1903.85 838.87 L1905.18 839.57 L1906.51 840.27 L1907.84 840.96 L1909.18 841.66 L1910.51 842.34 L1911.85 843.03 L1913.19 843.70 L1914.53 844.38 L1915.87 845.05 L1917.22 845.72 L1918.57 846.39 L1919.91 847.05 L1921.27 847.71 L1922.62 848.36 L1923.97 849.01 L1925.33 849.66 L1926.69 850.30 L1928.05 850.94 L1929.41 851.58 L1930.77 852.21 L1932.14 852.84 L1933.50 853.46 L1934.87 854.08 L1936.24 854.70 L1937.61 855.31 L1938.99 855.92 L1940.36 856.53 L1941.74 857.13 L1943.12 857.73 L1944.50 858.32 L1945.88 858.91 L1947.27 859.50 L1948.65 860.08 L1950.04 860.66 L1951.43 861.24 L1952.82 861.81 L1954.21 862.38 L1955.60 862.94 L1957.00 863.50 L1958.40 864.06 L1959.80 864.61 L1961.20 865.16 L1962.60 865.71 L1964.00 866.25 L1965.40 866.79 L1966.81 867.32 L1968.22 867.85 L1969.63 868.38 L1971.04 868.90 L1972.45 869.42 L1973.86 869.93 L1975.28 870.44 L1976.70 870.95 L1978.11 871.45 L1979.53 871.95 L1980.95 872.44 L1982.38 872.93 L1983.80 873.42 L1985.23 873.90 L1986.65 874.38 L1988.08 874.85 L1989.51 875.33 L1990.94 875.79 L1992.37 876.25 L1993.81 876.71 L1995.24 877.17 L1996.68 877.62 L1998.11 878.07 L1999.55 878.51 L2000.99 878.95 L2002.43 879.38 L2003.88 879.81 L2005.32 880.24 L2006.76 880.66 L2008.21 881.08 L2009.66 881.50 L2011.11 881.91 L2012.56 882.31 L2014.01 882.71 L2015.46 883.11 L2016.91 883.51 L2018.37 883.90 L2019.82 884.28 L2021.28 884.67 L2022.74 885.04 L2024.20 885.42 L2025.66 885.79 L2027.12 886.15 L2028.58 886.51 L2030.05 886.87 L2031.51 887.22 L2032.98 887.57 L2034.44 887.92 L2035.91 888.26 L2045.65 890.54" stroke="#ff0000" stroke-width="1.8" fill="none" stroke-linejoin="round"/>
<path d="M1176.46 894.65 L1179.26 885.05 L1179.75 883.39 L1180.23 881.72 L1180.72 880.05 L1181.20 878.38 L1181.69 876.72 L1182.17 875.05 L1182.65 873.38 L1183.13 871.71 L1183.62 870.04 L1184.10 868.38 L1184.58 866.71 L1185.06 865.04 L1185.54 863.37 L1186.01 861.70 L1186.49 860.03 L1186.97 858.36 L1187.45 856.69 L1187.92 855.02 L1188.40 853.35 L1188.88 851.68 L1189.35 850.01 L1189.83 848.34 L1190.30 846.67 L1190.77 845.00 L1191.25 843.33 L1191.72 841.66 L1192.19 839.99 L1192.67 838.32 L1193.14 836.65 L1193.61 834.98 L1194.08 833.31 L1194.55 831.64 L1195.02 829.97 L1195.49 828.30 L1195.96 826.63 L1196.43 824.95 L1196.90 823.28 L1197.37 821.61 L1197.84 819.94 L1198.31 818.27 L1198.77 816.60 L1199.24 814.93 L1199.71 813.25 L1200.18 811.58 L1200.64 809.91 L1201.11 808.24 L1201.58 806.57 L1202.04 804.90 L1202.51 803.22 L1202.97 801.55 L1203.44 799.88 L1203.91 798.21 L1204.37 796.54 L1204.84 794.86 L1205.30 793.19 L1205.77 791.52 L1206.23 789.85 L1206.70 788.17 L1207.16 786.50 L1207.63 784.83 L1208.09 783.16 L1208.55 781.49 L1209.02 779.81 L1209.48 778.14 L1209.95 776.47 L1210.41 774.80 L1210.88 773.12 L1211.34 771.45 L1211.80 769.78 L1212.27 768.11 L1212.73 766.44 L1213.20 764.76 L1213.66 763.09 L1214.13 761.42 L1214.59 759.75 L1215.06 758.08 L1215.52 756.40 L1215.98 754.73 L1216.45 753.06 L1216.91 751.39 L1217.38 749.72 L1217.84 748.05 L1218.31 746.37 L1218.78 744.70 L1219.24 743.03 L1219.71 741.36 L1220.17 739.69 L1220.64 738.02 L1221.11 736.34 L1221.57 734.67 L1222.04 733.00 L1222.51 731.33 L1222.97 729.66 L1223.44 727.99 L1223.91 726.32 L1224.38 724.65 L1224.85 722.98 L1225.31 721.31 L1225.78 719.64 L1226.25 717.97 L1226.72 716.30 L1227.19 714.63 L1227.66 712.96 L1228.13 711.29 L1228.60 709.62 L1229.07 707.95 L1229.55 706.28 L1230.02 704.61 L1230.49 702.94 L1230.96 701.27 L1231.44 699.60 L1231.91 697.93 L1232.38 696.26 L1232.86 694.59 L1233.33 692.92 L1233.81 691.26 L1234.28 689.59 L1234.76 687.92 L1235.24 686.25 L1235.71 684.58 L1236.19 682.92 L1236.67 681.25 L1237.15 679.58 L1237.63 677.91 L1238.11 676.25 L1238.59 674.58 L1239.07 672.91 L1239.55 671.25 L1240.03 669.58 L1240.52 667.92 L1241.00 666.25 L1241.48 664.58 L1241.97 662.92 L1242.45 661.25 L1242.94 659.59 L1243.43 657.92 L1243.91 656.26 L1244.40 654.59 L1244.89 652.93 L1245.38 651.26 L1245.87 649.60 L1246.36 647.94 L1246.85 646.27 L1247.35 644.61 L1247.84 642.95 L1248.33 641.28 L1248.83 639.62 L1249.32 637.96 L1249.82 636.30 L1250.31 634.64 L1250.81 632.97 L1251.31 631.31 L1251.81 629.65 L1252.31 627.99 L1252.81 626.33 L1253.31 624.67 L1253.82 623.01 L1254.32 621.35 L1254.82 619.69 L1255.33 618.03 L1255.84 616.37 L1256.34 614.71 L1256.85 613.05 L1257.36 611.39 L1257.87 609.74 L1258.38 608.08 L1258.89 606.42 L1259.40 604.76 L1259.92 603.11 L1260.43 601.45 L1260.95 599.79 L1261.47 598.14 L1261.98 596.48 L1262.50 594.83 L1263.02 593.17 L1263.54 591.52 L1264.07 589.86 L1264.59 588.21 L1265.11 586.55 L1265.64 584.90 L1266.16 583.25 L1266.69 581.59 L1267.22 579.94 L1267.75 578.29 L1268.28 576.64 L1268.81 574.98 L1269.35 573.33 L1269.88 571.68 L1270.41 570.03 L1270.95 568.38 L1271.49 566.73 L1272.03 565.08 L1272.57 563.43 L1273.11 561.78 L1273.65 560.13 L1274.20 558.49 L1274.74 556.84 L1275.29 555.19 L1275.84 553.54 L1276.38 551.90 L1276.93 550.25 L1277.49 548.60 L1278.04 546.96 L1278.59 545.31 L1279.15 543.67 L1279.71 542.02 L1280.26 540.38 L1280.82 538.74 L1281.38 537.09 L1281.95 535.45 L1282.51 533.81 L1283.07 532.16 L1283.64 530.52 L1284.21 528.88 L1284.78 527.24 L1285.35 525.60 L1285.92 523.96 L1286.49 522.32 L1287.06 520.68 L1287.64 519.04 L1288.22 517.41 L1288.79 515.77 L1289.37 514.13 L1289.96 512.49 L1290.54 510.86 L1291.12 509.22 L1291.71 507.59 L1292.29 505.95 L1292.88 504.32 L1293.47 502.68 L1294.06 501.05 L1294.65 499.42 L1295.25 497.78 L1295.84 496.15 L1296.44 494.52 L1297.03 492.89 L1297.63 491.26 L1298.23 489.63 L1298.83 488.00 L1299.44 486.37 L1300.04 484.74 L1300.65 483.11 L1301.26 481.48 L1301.86 479.86 L1302.48 478.23 L1303.09 476.61 L1303.70 474.98 L1304.31 473.36 L1304.93 471.73 L1305.55 470.11 L1306.17 468.48 L1306.79 466.86 L1307.41 465.24 L1308.03 463.62 L1308.66 462.00 L1309.28 460.38 L1309.91 458.76 L1310.54 457.14 L1311.17 455.52 L1311.80 453.90 L1312.44 452.28 L1313.07 450.67 L1313.71 449.05 L1314.35 447.44 L1314.98 445.82 L1315.63 444.21 L1316.27 442.59 L1316.91 440.98 L1317.56 439.37 L1318.20 437.76 L1318.85 436.14 L1319.50 434.53 L1320.15 432.92 L1320.81 431.31 L1321.46 429.71 L1322.12 428.10 L1322.77 426.49 L1323.43 424.88 L1324.09 423.28 L1324.76 421.67 L1325.42 420.07 L1326.08 418.46 L1326.75 416.86 L1327.42 415.26 L1328.09 413.66 L1328.76 412.06 L1329.44 410.46 L1330.11 408.86 L1330.79 407.26 L1331.47 405.66 L1332.16 404.07 L1332.84 402.47 L1333.53 400.88 L1334.23 399.29 L1334.92 397.70 L1335.62 396.11 L1336.32 394.53 L1337.03 392.94 L1337.73 391.36 L1338.45 389.78 L1339.16 388.20 L1339.88 386.62 L1340.60 385.04 L1341.33 383.47 L1342.06 381.90 L1342.80 380.33 L1343.54 378.76 L1344.28 377.20 L1345.03 375.64 L1345.79 374.08 L1346.55 372.52 L1347.31 370.96 L1348.08 369.41 L1348.85 367.86 L1349.63 366.31 L1350.41 364.77 L1351.20 363.23 L1352.00 361.69 L1352.80 360.16 L1353.61 358.62 L1354.42 357.09 L1355.24 355.57 L1356.06 354.05 L1356.90 352.53 L1357.73 351.01 L1358.58 349.50 L1359.43 347.99 L1360.29 346.48 L1361.15 344.98 L1362.02 343.48 L1362.90 341.99 L1363.79 340.50 L1364.68 339.01 L1365.58 337.53 L1366.49 336.05 L1367.40 334.58 L1368.33 333.10 L1369.26 331.64 L1370.20 330.18 L1371.15 328.72 L1372.10 327.26 L1373.07 325.82 L1374.04 324.37 L1375.02 322.93 L1376.01 321.50 L1377.01 320.07 L1378.01 318.64 L1379.03 317.22 L1380.06 315.80 L1381.09 314.39 L1382.13 312.98 L1383.19 311.58 L1384.25 310.19 L1385.32 308.80 L1386.41 307.41 L1387.50 306.03 L1388.60 304.66 L1389.71 303.29 L1390.84 301.92 L1391.97 300.56 L1393.11 299.21 L1394.27 297.87 L1395.44 296.54 L1396.61 295.22 L1397.81 293.91 L1399.01 292.63 L1400.23 291.36 L1401.47 290.11 L1402.72 288.89 L1403.99 287.69 L1405.27 286.52 L1406.57 285.37 L1407.89 284.26 L1409.22 283.19 L1410.58 282.14 L1411.95 281.14 L1413.35 280.17 L1414.76 279.25 L1416.20 278.37 L1417.66 277.54 L1419.14 276.75 L1420.64 276.02 L1422.16 275.33 L1423.71 274.70 L1425.27 274.11 L1426.86 273.58 L1428.45 273.11 L1430.06 272.69 L1431.69 272.32 L1433.32 272.01 L1434.97 271.75 L1436.62 271.55 L1438.27 271.40 L1439.93 271.31 L1441.60 271.28 L1443.26 271.31 L1444.92 271.39 L1446.58 271.54 L1448.24 271.74 L1449.90 272.00 L1451.55 272.31 L1453.20 272.67 L1454.84 273.08 L1456.48 273.54 L1458.12 274.04 L1459.74 274.60 L1461.37 275.19 L1462.98 275.83 L1464.59 276.50 L1466.19 277.22 L1467.78 277.97 L1469.36 278.76 L1470.93 279.58 L1472.49 280.43 L1474.04 281.31 L1475.58 282.22 L1477.11 283.16 L1478.63 284.12 L1480.13 285.11 L1481.62 286.12 L1483.10 287.14 L1484.57 288.19 L1486.02 289.25 L1487.45 290.33 L1488.87 291.42 L1490.27 292.53 L1491.66 293.64 L1493.03 294.77 L1494.39 295.91 L1495.74 297.06 L1497.07 298.22 L1498.38 299.39 L1499.68 300.58 L1500.98 301.77 L1502.25 302.97 L1503.52 304.18 L1504.77 305.41 L1506.01 306.64 L1507.24 307.88 L1508.46 309.13 L1509.67 310.38 L1510.87 311.65 L1512.06 312.92 L1513.24 314.20 L1514.41 315.49 L1515.57 316.78 L1516.72 318.09 L1517.86 319.39 L1519.00 320.71 L1520.13 322.03 L1521.25 323.35 L1522.36 324.69 L1523.47 326.02 L1524.57 327.36 L1525.66 328.71 L1526.75 330.06 L1527.83 331.41 L1528.91 332.77 L1529.99 334.13 L1531.06 335.50 L1532.12 336.87 L1533.18 338.24 L1534.24 339.61 L1535.30 340.98 L1536.35 342.36 L1537.40 343.74 L1538.45 345.12 L1539.50 346.50 L1540.54 347.89 L1541.58 349.27 L1542.62 350.66 L1543.66 352.05 L1544.69 353.44 L1545.72 354.83 L1546.75 356.22 L1547.78 357.62 L1548.81 359.01 L1549.83 360.41 L1550.85 361.81 L1551.87 363.21 L1552.89 364.62 L1553.90 366.02 L1554.92 367.43 L1555.93 368.83 L1556.94 370.24 L1557.94 371.65 L1558.95 373.06 L1559.95 374.47 L1560.95 375.89 L1561.95 377.30 L1562.95 378.72 L1563.95 380.14 L1564.94 381.56 L1565.93 382.98 L1566.92 384.40 L1567.91 385.82 L1568.90 387.25 L1569.89 388.67 L1570.87 390.10 L1571.85 391.53 L1572.83 392.95 L1573.81 394.38 L1574.79 395.81 L1575.76 397.25 L1576.74 398.68 L1577.71 400.11 L1578.68 401.55 L1579.65 402.99 L1580.62 404.42 L1581.59 405.86 L1582.56 407.30 L1583.52 408.74 L1584.48 410.18 L1585.44 411.63 L1586.41 413.07 L1587.36 414.51 L1588.32 415.96 L1589.28 417.41 L1590.24 418.85 L1591.19 420.30 L1592.14 421.75 L1593.10 423.20 L1594.05 424.65 L1595.00 426.10 L1595.95 427.55 L1596.89 429.00 L1597.84 430.46 L1598.79 431.91 L1599.73 433.37 L1600.68 434.82 L1601.62 436.28 L1602.56 437.74 L1603.50 439.19 L1604.44 440.65 L1605.38 442.11 L1606.32 443.57 L1607.26 445.03 L1608.20 446.49 L1609.14 447.95 L1610.07 449.41 L1611.01 450.87 L1611.94 452.34 L1612.88 453.80 L1613.81 455.26 L1614.74 456.73 L1615.68 458.19 L1616.61 459.66 L1617.54 461.12 L1618.47 462.59 L1619.40 464.05 L1620.33 465.52 L1621.26 466.99 L1622.19 468.45 L1623.12 469.92 L1624.05 471.39 L1624.97 472.86 L1625.90 474.32 L1626.83 475.79 L1627.76 477.26 L1628.68 478.73 L1629.61 480.20 L1630.54 481.67 L1631.47 483.14 L1632.39 484.61 L1633.32 486.08 L1634.24 487.55 L1635.17 489.02 L1636.10 490.48 L1637.02 491.95 L1637.95 493.42 L1638.87 494.89 L1639.80 496.36 L1640.73 497.83 L1641.65 499.31 L1642.58 500.78 L1643.51 502.24 L1644.43 503.71 L1645.36 505.18 L1646.29 506.65 L1647.22 508.12 L1648.14 509.59 L1649.07 511.06 L1650.00 512.53 L1650.93 514.00 L1651.86 515.47 L1652.79 516.94 L1653.72 518.41 L1654.65 519.88 L1655.58 521.34 L1656.51 522.81 L1657.44 524.28 L1658.37 525.74 L1659.30 527.21 L1660.24 528.68 L1661.17 530.14 L1662.11 531.61 L1663.04 533.07 L1663.98 534.54 L1664.91 536.00 L1665.85 537.47 L1666.79 538.93 L1667.73 540.39 L1668.67 541.86 L1669.61 543.32 L1670.55 544.78 L1671.49 546.24 L1672.43 547.70 L1673.38 549.16 L1674.32 550.62 L1675.27 552.08 L1676.21 553.54 L1677.16 555.00 L1678.11 556.45 L1679.06 557.91 L1680.01 559.37 L1680.96 560.82 L1681.91 562.27 L1682.86 563.73 L1683.82 565.18 L1684.78 566.63 L1685.73 568.08 L1686.69 569.53 L1687.65 570.98 L1688.61 572.43 L1689.57 573.88 L1690.54 575.33 L1691.50 576.77 L1692.47 578.22 L1693.44 579.66 L1694.41 581.11 L1695.38 582.55 L1696.35 583.99 L1697.32 585.43 L1698.30 586.87 L1699.27 588.31 L1700.25 589.75 L1701.23 591.19 L1702.21 592.62 L1703.19 594.06 L1704.18 595.49 L1705.16 596.92 L1706.15 598.35 L1707.14 599.78 L1708.13 601.21 L1709.12 602.64 L1710.11 604.07 L1711.11 605.49 L1712.10 606.92 L1713.10 608.34 L1714.10 609.76 L1715.10 611.18 L1716.11 612.60 L1717.11 614.02 L1718.12 615.44 L1719.12 616.85 L1720.13 618.27 L1721.15 619.68 L1722.16 621.09 L1723.17 622.50 L1724.19 623.91 L1725.21 625.32 L1726.23 626.73 L1727.25 628.13 L1728.27 629.54 L1729.30 630.94 L1730.33 632.34 L1731.36 633.74 L1732.39 635.14 L1733.42 636.53 L1734.46 637.93 L1735.49 639.32 L1736.53 640.71 L1737.57 642.10 L1738.61 643.49 L1739.66 644.88 L1740.71 646.26 L1741.75 647.64 L1742.80 649.03 L1743.86 650.41 L1744.91 651.78 L1745.97 653.16 L1747.03 654.54 L1748.09 655.91 L1749.15 657.28 L1750.21 658.65 L1751.28 660.02 L1752.35 661.39 L1753.42 662.75 L1754.49 664.11 L1755.57 665.47 L1756.64 666.83 L1757.72 668.19 L1758.80 669.55 L1759.89 670.90 L1760.97 672.25 L1762.06 673.60 L1763.15 674.95 L1764.24 676.29 L1765.33 677.64 L1766.43 678.98 L1767.53 680.32 L1768.63 681.66 L1769.73 682.99 L1770.84 684.33 L1771.95 685.66 L1773.06 686.99 L1774.17 688.32 L1775.28 689.64 L1776.40 690.97 L1777.52 692.29 L1778.64 693.61 L1779.77 694.92 L1780.89 696.24 L1782.02 697.55 L1783.15 698.86 L1784.29 700.17 L1785.42 701.47 L1786.56 702.78 L1787.70 704.08 L1788.84 705.38 L1789.99 706.68 L1791.14 707.97 L1792.29 709.26 L1793.44 710.55 L1794.60 711.84 L1795.76 713.13 L1796.92 714.41 L1798.08 715.69 L1799.25 716.97 L1800.42 718.24 L1801.59 719.52 L1802.76 720.79 L1803.94 722.05 L1805.12 723.32 L1806.30 724.58 L1807.48 725.84 L1808.67 727.10 L1809.86 728.36 L1811.05 729.61 L1812.25 730.86 L1813.44 732.11 L1814.64 733.35 L1815.85 734.59 L1817.05 735.83 L1818.26 737.07 L1819.48 738.30 L1820.69 739.53 L1821.91 740.76 L1823.13 741.98 L1824.35 743.20 L1825.58 744.42 L1826.81 745.63 L1828.04 746.84 L1829.28 748.05 L1830.52 749.26 L1831.76 750.46 L1833.00 751.66 L1834.25 752.85 L1835.50 754.04 L1836.76 755.23 L1838.01 756.42 L1839.28 757.60 L1840.54 758.77 L1841.81 759.95 L1843.08 761.12 L1844.35 762.29 L1845.63 763.45 L1846.91 764.61 L1848.19 765.77 L1849.48 766.92 L1850.77 768.07 L1852.06 769.21 L1853.36 770.35 L1854.66 771.49 L1855.96 772.62 L1857.27 773.75 L1858.58 774.88 L1859.90 776.00 L1861.21 777.12 L1862.53 778.23 L1863.86 779.34 L1865.19 780.44 L1866.52 781.55 L1867.86 782.64 L1869.20 783.73 L1870.54 784.82 L1871.89 785.91 L1873.24 786.99 L1874.59 788.06 L1875.95 789.13 L1877.31 790.20 L1878.67 791.26 L1880.04 792.32 L1881.42 793.37 L1882.79 794.42 L1884.17 795.46 L1885.56 796.50 L1886.95 797.54 L1888.34 798.57 L1889.74 799.59 L1891.14 800.61 L1892.54 801.63 L1893.95 802.64 L1895.36 803.64 L1896.78 804.64 L1898.20 805.64 L1899.62 806.63 L1901.05 807.62 L1902.48 808.60 L1903.91 809.58 L1905.35 810.55 L1906.79 811.52 L1908.24 812.48 L1909.69 813.44 L1911.14 814.39 L1912.59 815.34 L1914.05 816.28 L1915.52 817.22 L1916.98 818.15 L1918.45 819.08 L1919.93 820.01 L1921.40 820.92 L1922.88 821.84 L1924.36 822.75 L1925.85 823.65 L1927.34 824.55 L1928.83 825.44 L1930.33 826.33 L1931.83 827.22 L1933.33 828.10 L1934.83 828.97 L1936.34 829.84 L1937.85 830.71 L1939.36 831.57 L1940.88 832.42 L1942.40 833.27 L1943.92 834.11 L1945.45 834.95 L1946.98 835.79 L1948.51 836.62 L1950.04 837.44 L1951.58 838.26 L1953.11 839.08 L1954.66 839.89 L1956.20 840.69 L1957.75 841.49 L1959.30 842.29 L1960.85 843.08 L1962.40 843.86 L1963.96 844.64 L1965.52 845.42 L1967.08 846.19 L1968.64 846.95 L1970.21 847.71 L1971.78 848.46 L1973.35 849.21 L1974.92 849.96 L1976.49 850.70 L1978.07 851.43 L1979.65 852.16 L1981.23 852.88 L1982.81 853.60 L1984.40 854.31 L1985.99 855.02 L1987.58 855.73 L1989.17 856.42 L1990.76 857.12 L1992.36 857.81 L1993.95 858.49 L1995.55 859.17 L1997.15 859.84 L1998.75 860.51 L2000.36 861.17 L2001.96 861.82 L2003.57 862.48 L2005.18 863.12 L2006.79 863.76 L2008.40 864.40 L2010.02 865.03 L2011.63 865.66 L2013.25 866.28 L2014.87 866.89 L2016.49 867.50 L2018.11 868.11 L2019.73 868.71 L2021.35 869.30 L2022.98 869.89 L2024.60 870.47 L2026.23 871.05 L2027.86 871.63 L2029.49 872.19 L2031.12 872.76 L2032.75 873.32 L2034.39 873.87 L2036.02 874.41 L2037.66 874.96 L2039.29 875.49 L2040.93 876.02 L2042.57 876.55 L2052.08 879.63" stroke="#ff00ff" stroke-width="1.8" fill="none" stroke-linejoin="round"/>
<path d="M1175.17 894.69 L1177.75 885.03 L1178.26 883.09 L1178.78 881.16 L1179.29 879.23 L1179.81 877.30 L1180.32 875.36 L1180.82 873.43 L1181.33 871.49 L1181.83 869.56 L1182.33 867.62 L1182.83 865.68 L1183.32 863.75 L1183.82 861.81 L1184.31 859.87 L1184.80 857.93 L1185.29 855.99 L1185.77 854.06 L1186.26 852.12 L1186.74 850.18 L1187.22 848.24 L1187.70 846.29 L1188.17 844.35 L1188.65 842.41 L1189.12 840.47 L1189.59 838.53 L1190.06 836.58 L1190.53 834.64 L1190.99 832.70 L1191.45 830.75 L1191.92 828.81 L1192.38 826.86 L1192.84 824.92 L1193.29 822.97 L1193.75 821.03 L1194.21 819.08 L1194.66 817.13 L1195.11 815.19 L1195.56 813.24 L1196.01 811.29 L1196.46 809.35 L1196.90 807.40 L1197.35 805.45 L1197.79 803.50 L1198.23 801.55 L1198.68 799.60 L1199.12 797.65 L1199.55 795.70 L1199.99 793.75 L1200.43 791.80 L1200.86 789.85 L1201.30 787.90 L1201.73 785.95 L1202.17 784.00 L1202.60 782.05 L1203.03 780.10 L1203.46 778.15 L1203.89 776.20 L1204.31 774.24 L1204.74 772.29 L1205.17 770.34 L1205.59 768.39 L1206.02 766.44 L1206.44 764.48 L1206.87 762.53 L1207.29 760.58 L1207.71 758.62 L1208.13 756.67 L1208.55 754.72 L1208.98 752.76 L1209.40 750.81 L1209.81 748.86 L1210.23 746.90 L1210.65 744.95 L1211.07 743.00 L1211.49 741.04 L1211.91 739.09 L1212.32 737.13 L1212.74 735.18 L1213.16 733.23 L1213.57 731.27 L1213.99 729.32 L1214.41 727.36 L1214.82 725.41 L1215.24 723.45 L1215.66 721.50 L1216.07 719.55 L1216.49 717.59 L1216.90 715.64 L1217.32 713.68 L1217.73 711.73 L1218.15 709.77 L1218.57 707.82 L1218.98 705.87 L1219.40 703.91 L1219.82 701.96 L1220.23 700.00 L1220.65 698.05 L1221.07 696.10 L1221.48 694.14 L1221.90 692.19 L1222.32 690.24 L1222.74 688.28 L1223.16 686.33 L1223.58 684.38 L1224.00 682.42 L1224.42 680.47 L1224.84 678.52 L1225.26 676.57 L1225.68 674.61 L1226.11 672.66 L1226.53 670.71 L1226.95 668.76 L1227.38 666.80 L1227.80 664.85 L1228.23 662.90 L1228.66 660.95 L1229.08 659.00 L1229.51 657.05 L1229.94 655.10 L1230.37 653.15 L1230.80 651.20 L1231.24 649.25 L1231.67 647.30 L1232.10 645.35 L1232.54 643.40 L1232.98 641.45 L1233.41 639.50 L1233.85 637.55 L1234.29 635.60 L1234.73 633.66 L1235.17 631.71 L1235.61 629.76 L1236.06 627.81 L1236.50 625.87 L1236.95 623.92 L1237.39 621.97 L1237.84 620.03 L1238.29 618.08 L1238.74 616.13 L1239.19 614.19 L1239.64 612.24 L1240.09 610.30 L1240.54 608.35 L1241.00 606.41 L1241.45 604.46 L1241.91 602.52 L1242.36 600.57 L1242.82 598.63 L1243.28 596.69 L1243.74 594.74 L1244.20 592.80 L1244.66 590.86 L1245.13 588.91 L1245.59 586.97 L1246.06 585.03 L1246.52 583.09 L1246.99 581.15 L1247.46 579.20 L1247.93 577.26 L1248.40 575.32 L1248.87 573.38 L1249.34 571.44 L1249.81 569.50 L1250.29 567.56 L1250.76 565.62 L1251.24 563.68 L1251.72 561.74 L1252.19 559.80 L1252.67 557.86 L1253.15 555.93 L1253.64 553.99 L1254.12 552.05 L1254.60 550.11 L1255.09 548.17 L1255.57 546.24 L1256.06 544.30 L1256.55 542.36 L1257.04 540.42 L1257.53 538.49 L1258.02 536.55 L1258.51 534.61 L1259.00 532.68 L1259.50 530.74 L1259.99 528.81 L1260.49 526.87 L1260.99 524.94 L1261.48 523.00 L1261.98 521.07 L1262.48 519.13 L1262.99 517.20 L1263.49 515.27 L1263.99 513.33 L1264.50 511.40 L1265.00 509.47 L1265.51 507.53 L1266.02 505.60 L1266.53 503.67 L1267.04 501.74 L1267.55 499.80 L1268.06 497.87 L1268.57 495.94 L1269.09 494.01 L1269.60 492.08 L1270.12 490.15 L1270.64 488.22 L1271.16 486.29 L1271.68 484.36 L1272.20 482.43 L1272.72 480.50 L1273.25 478.57 L1273.77 476.64 L1274.30 474.71 L1274.82 472.78 L1275.35 470.85 L1275.88 468.92 L1276.41 467.00 L1276.94 465.07 L1277.47 463.14 L1278.01 461.21 L1278.54 459.29 L1279.08 457.36 L1279.61 455.43 L1280.15 453.51 L1280.69 451.58 L1281.23 449.66 L1281.77 447.73 L1282.31 445.80 L1282.86 443.88 L1283.40 441.95 L1283.95 440.03 L1284.49 438.10 L1285.04 436.18 L1285.59 434.26 L1286.14 432.33 L1286.69 430.41 L1287.25 428.49 L1287.80 426.56 L1288.36 424.64 L1288.92 422.72 L1289.47 420.80 L1290.03 418.88 L1290.60 416.96 L1291.16 415.04 L1291.72 413.12 L1292.29 411.20 L1292.85 409.28 L1293.42 407.36 L1293.99 405.44 L1294.56 403.52 L1295.14 401.61 L1295.71 399.69 L1296.28 397.77 L1296.86 395.86 L1297.44 393.94 L1298.02 392.03 L1298.60 390.11 L1299.18 388.20 L1299.77 386.28 L1300.36 384.37 L1300.94 382.46 L1301.53 380.55 L1302.12 378.63 L1302.72 376.72 L1303.31 374.81 L1303.91 372.90 L1304.51 370.99 L1305.10 369.09 L1305.71 367.18 L1306.31 365.27 L1306.91 363.36 L1307.52 361.46 L1308.13 359.55 L1308.74 357.65 L1309.35 355.74 L1309.96 353.84 L1310.58 351.94 L1311.20 350.04 L1311.82 348.14 L1312.44 346.24 L1313.06 344.34 L1313.68 342.44 L1314.31 340.54 L1314.94 338.64 L1315.57 336.74 L1316.20 334.85 L1316.84 332.95 L1317.47 331.06 L1318.11 329.16 L1318.75 327.27 L1319.39 325.38 L1320.04 323.49 L1320.69 321.60 L1321.33 319.71 L1321.98 317.82 L1322.64 315.93 L1323.29 314.04 L1323.95 312.16 L1324.61 310.27 L1325.27 308.39 L1325.93 306.50 L1326.60 304.62 L1327.27 302.74 L1327.94 300.86 L1328.61 298.98 L1329.28 297.10 L1329.96 295.22 L1330.64 293.34 L1331.32 291.47 L1332.00 289.59 L1332.69 287.72 L1333.38 285.84 L1334.07 283.97 L1334.76 282.10 L1335.45 280.23 L1336.15 278.36 L1336.85 276.49 L1337.55 274.63 L1338.26 272.76 L1338.97 270.90 L1339.67 269.03 L1340.39 267.17 L1341.10 265.31 L1341.82 263.45 L1342.54 261.59 L1343.26 259.73 L1343.98 257.87 L1344.71 256.02 L1345.44 254.16 L1346.17 252.31 L1346.91 250.46 L1347.65 248.61 L1348.39 246.76 L1349.14 244.91 L1349.89 243.07 L1350.65 241.22 L1351.41 239.38 L1352.18 237.54 L1352.95 235.70 L1353.72 233.87 L1354.50 232.03 L1355.29 230.20 L1356.08 228.37 L1356.88 226.55 L1357.68 224.72 L1358.49 222.90 L1359.31 221.08 L1360.13 219.27 L1360.96 217.45 L1361.80 215.64 L1362.65 213.83 L1363.50 212.03 L1364.36 210.23 L1365.23 208.43 L1366.10 206.63 L1366.99 204.84 L1367.88 203.05 L1368.78 201.27 L1369.69 199.49 L1370.61 197.71 L1371.54 195.93 L1372.47 194.16 L1373.42 192.40 L1374.38 190.63 L1375.35 188.87 L1376.32 187.12 L1377.31 185.37 L1378.31 183.62 L1379.32 181.88 L1380.34 180.14 L1381.37 178.41 L1382.42 176.68 L1383.47 174.95 L1384.54 173.23 L1385.61 171.52 L1386.71 169.81 L1387.81 168.10 L1388.92 166.40 L1390.05 164.70 L1391.19 163.01 L1392.35 161.33 L1393.52 159.66 L1394.71 158.00 L1395.91 156.35 L1397.13 154.73 L1398.36 153.12 L1399.62 151.54 L1400.89 149.99 L1402.19 148.46 L1403.50 146.96 L1404.84 145.50 L1406.20 144.08 L1407.59 142.69 L1408.99 141.35 L1410.43 140.05 L1411.89 138.80 L1413.37 137.59 L1414.89 136.44 L1416.43 135.35 L1418.00 134.31 L1419.60 133.34 L1421.23 132.42 L1422.90 131.57 L1424.59 130.79 L1426.32 130.08 L1428.08 129.45 L1429.88 128.89 L1431.70 128.40 L1433.55 127.98 L1435.41 127.63 L1437.30 127.36 L1439.21 127.16 L1441.12 127.03 L1443.05 126.97 L1444.98 126.98 L1446.92 127.07 L1448.86 127.22 L1450.80 127.44 L1452.73 127.73 L1454.65 128.09 L1456.56 128.52 L1458.46 129.02 L1460.34 129.58 L1462.20 130.22 L1464.03 130.92 L1465.84 131.68 L1467.62 132.52 L1469.37 133.42 L1471.08 134.38 L1472.76 135.41 L1474.40 136.50 L1476.01 137.65 L1477.59 138.84 L1479.14 140.08 L1480.66 141.37 L1482.16 142.69 L1483.64 144.05 L1485.10 145.43 L1486.53 146.84 L1487.95 148.28 L1489.36 149.72 L1490.75 151.19 L1492.13 152.66 L1493.50 154.13 L1494.86 155.61 L1496.21 157.10 L1497.55 158.59 L1498.89 160.08 L1500.21 161.58 L1501.53 163.08 L1502.83 164.59 L1504.13 166.10 L1505.42 167.62 L1506.71 169.14 L1507.98 170.67 L1509.25 172.20 L1510.51 173.74 L1511.76 175.28 L1513.00 176.82 L1514.24 178.38 L1515.47 179.93 L1516.70 181.49 L1517.91 183.06 L1519.13 184.63 L1520.33 186.20 L1521.53 187.78 L1522.72 189.37 L1523.91 190.96 L1525.09 192.55 L1526.27 194.15 L1527.44 195.76 L1528.60 197.37 L1529.76 198.98 L1530.91 200.60 L1532.06 202.22 L1533.20 203.84 L1534.34 205.47 L1535.47 207.11 L1536.60 208.75 L1537.72 210.39 L1538.84 212.03 L1539.95 213.68 L1541.05 215.34 L1542.16 217.00 L1543.25 218.66 L1544.34 220.32 L1545.43 221.99 L1546.51 223.66 L1547.59 225.34 L1548.66 227.02 L1549.73 228.70 L1550.80 230.38 L1551.86 232.07 L1552.92 233.76 L1553.97 235.46 L1555.02 237.16 L1556.06 238.86 L1557.10 240.56 L1558.14 242.27 L1559.17 243.98 L1560.20 245.69 L1561.23 247.40 L1562.25 249.12 L1563.27 250.84 L1564.28 252.56 L1565.30 254.28 L1566.30 256.01 L1567.31 257.74 L1568.31 259.47 L1569.31 261.20 L1570.31 262.94 L1571.30 264.67 L1572.29 266.41 L1573.28 268.15 L1574.27 269.89 L1575.25 271.64 L1576.23 273.38 L1577.21 275.13 L1578.18 276.88 L1579.15 278.63 L1580.12 280.38 L1581.09 282.14 L1582.06 283.89 L1583.02 285.65 L1583.98 287.40 L1584.94 289.16 L1585.90 290.92 L1586.86 292.68 L1587.81 294.44 L1588.77 296.20 L1589.72 297.96 L1590.67 299.73 L1591.62 301.49 L1592.56 303.25 L1593.51 305.02 L1594.45 306.78 L1595.40 308.55 L1596.34 310.32 L1597.28 312.08 L1598.22 313.85 L1599.16 315.62 L1600.10 317.38 L1601.04 319.15 L1601.97 320.92 L1602.91 322.68 L1603.85 324.45 L1604.78 326.22 L1605.71 327.98 L1606.65 329.75 L1607.58 331.52 L1608.51 333.28 L1609.45 335.05 L1610.38 336.82 L1611.31 338.58 L1612.24 340.35 L1613.17 342.12 L1614.10 343.88 L1615.03 345.65 L1615.95 347.42 L1616.88 349.18 L1617.81 350.95 L1618.74 352.72 L1619.66 354.48 L1620.59 356.25 L1621.52 358.01 L1622.44 359.78 L1623.37 361.55 L1624.29 363.31 L1625.22 365.08 L1626.14 366.85 L1627.07 368.61 L1627.99 370.38 L1628.92 372.14 L1629.84 373.91 L1630.77 375.67 L1631.69 377.44 L1632.62 379.21 L1633.54 380.97 L1634.47 382.74 L1635.39 384.50 L1636.31 386.27 L1637.24 388.03 L1638.16 389.80 L1639.09 391.56 L1640.01 393.33 L1640.94 395.09 L1641.86 396.86 L1642.79 398.62 L1643.71 400.38 L1644.64 402.15 L1645.56 403.91 L1646.49 405.68 L1647.42 407.44 L1648.34 409.20 L1649.27 410.97 L1650.20 412.73 L1651.13 414.49 L1652.05 416.26 L1652.98 418.02 L1653.91 419.78 L1654.84 421.54 L1655.77 423.31 L1656.70 425.07 L1657.63 426.83 L1658.57 428.59 L1659.50 430.35 L1660.43 432.11 L1661.36 433.88 L1662.30 435.64 L1663.23 437.40 L1664.17 439.16 L1665.10 440.92 L1666.04 442.68 L1666.98 444.44 L1667.92 446.20 L1668.86 447.96 L1669.80 449.72 L1670.74 451.48 L1671.68 453.24 L1672.62 455.00 L1673.56 456.75 L1674.51 458.51 L1675.45 460.27 L1676.40 462.03 L1677.35 463.79 L1678.29 465.54 L1679.24 467.30 L1680.19 469.06 L1681.15 470.81 L1682.10 472.57 L1683.05 474.33 L1684.01 476.08 L1684.96 477.84 L1685.92 479.59 L1686.88 481.35 L1687.83 483.10 L1688.79 484.85 L1689.76 486.61 L1690.72 488.36 L1691.68 490.11 L1692.65 491.87 L1693.61 493.62 L1694.58 495.37 L1695.55 497.12 L1696.52 498.87 L1697.49 500.62 L1698.47 502.37 L1699.44 504.11 L1700.42 505.86 L1701.40 507.61 L1702.38 509.35 L1703.36 511.10 L1704.34 512.84 L1705.32 514.59 L1706.31 516.33 L1707.30 518.07 L1708.28 519.81 L1709.27 521.55 L1710.27 523.29 L1711.26 525.03 L1712.25 526.77 L1713.25 528.51 L1714.25 530.24 L1715.25 531.98 L1716.25 533.71 L1717.26 535.45 L1718.26 537.18 L1719.27 538.91 L1720.28 540.64 L1721.29 542.37 L1722.30 544.09 L1723.32 545.82 L1724.33 547.55 L1725.35 549.27 L1726.37 550.99 L1727.39 552.72 L1728.42 554.44 L1729.45 556.16 L1730.47 557.87 L1731.51 559.59 L1732.54 561.31 L1733.57 563.02 L1734.61 564.73 L1735.65 566.45 L1736.69 568.16 L1737.73 569.86 L1738.78 571.57 L1739.83 573.28 L1740.88 574.98 L1741.93 576.68 L1742.98 578.39 L1744.04 580.09 L1745.10 581.78 L1746.16 583.48 L1747.22 585.18 L1748.29 586.87 L1749.36 588.56 L1750.43 590.25 L1751.50 591.94 L1752.58 593.63 L1753.65 595.31 L1754.73 596.99 L1755.82 598.68 L1756.90 600.36 L1757.99 602.03 L1759.08 603.71 L1760.17 605.38 L1761.27 607.06 L1762.37 608.73 L1763.47 610.40 L1764.57 612.06 L1765.68 613.73 L1766.79 615.39 L1767.90 617.05 L1769.01 618.71 L1770.13 620.37 L1771.25 622.02 L1772.37 623.68 L1773.50 625.33 L1774.63 626.98 L1775.76 628.62 L1776.89 630.27 L1778.03 631.91 L1779.17 633.55 L1780.31 635.19 L1781.46 636.82 L1782.61 638.45 L1783.76 640.09 L1784.91 641.71 L1786.07 643.34 L1787.23 644.97 L1788.39 646.59 L1789.56 648.21 L1790.73 649.82 L1791.90 651.44 L1793.08 653.05 L1794.26 654.66 L1795.44 656.27 L1796.62 657.87 L1797.81 659.47 L1799.01 661.07 L1800.20 662.67 L1801.40 664.27 L1802.60 665.86 L1803.81 667.45 L1805.01 669.03 L1806.23 670.62 L1807.44 672.20 L1808.66 673.78 L1809.88 675.35 L1811.11 676.93 L1812.33 678.50 L1813.57 680.07 L1814.80 681.63 L1816.04 683.19 L1817.28 684.75 L1818.53 686.31 L1819.78 687.86 L1821.03 689.41 L1822.29 690.96 L1823.55 692.51 L1824.81 694.05 L1826.08 695.59 L1827.35 697.12 L1828.63 698.66 L1829.91 700.19 L1831.19 701.71 L1832.48 703.24 L1833.77 704.76 L1835.06 706.27 L1836.36 707.79 L1837.66 709.30 L1838.96 710.81 L1840.27 712.31 L1841.59 713.81 L1842.90 715.31 L1844.22 716.81 L1845.55 718.30 L1846.88 719.79 L1848.21 721.27 L1849.55 722.75 L1850.89 724.23 L1852.23 725.71 L1853.58 727.18 L1854.94 728.65 L1856.29 730.11 L1857.65 731.57 L1859.02 733.03 L1860.39 734.49 L1861.76 735.94 L1863.14 737.38 L1864.52 738.83 L1865.91 740.27 L1867.30 741.70 L1868.69 743.14 L1870.09 744.56 L1871.50 745.99 L1872.90 747.41 L1874.31 748.82 L1875.73 750.24 L1877.15 751.65 L1878.58 753.05 L1880.00 754.45 L1881.44 755.84 L1882.88 757.23 L1884.32 758.62 L1885.76 760.00 L1887.21 761.38 L1888.67 762.75 L1890.13 764.12 L1891.59 765.48 L1893.06 766.84 L1894.53 768.20 L1896.01 769.54 L1897.49 770.89 L1898.98 772.23 L1900.47 773.56 L1901.96 774.89 L1903.46 776.21 L1904.97 777.53 L1906.47 778.84 L1907.99 780.15 L1909.50 781.45 L1911.03 782.75 L1912.55 784.04 L1914.08 785.32 L1915.62 786.60 L1917.16 787.88 L1918.70 789.14 L1920.25 790.41 L1921.81 791.66 L1923.37 792.91 L1924.93 794.16 L1926.50 795.39 L1928.07 796.63 L1929.65 797.85 L1931.23 799.07 L1932.82 800.28 L1934.41 801.49 L1936.00 802.69 L1937.60 803.89 L1939.21 805.07 L1940.82 806.25 L1942.43 807.43 L1944.05 808.60 L1945.68 809.76 L1947.31 810.91 L1948.94 812.06 L1950.58 813.20 L1952.22 814.33 L1953.87 815.46 L1955.53 816.58 L1957.18 817.69 L1958.85 818.79 L1960.52 819.89 L1962.19 820.98 L1963.87 822.06 L1965.55 823.14 L1967.24 824.20 L1968.93 825.26 L1970.63 826.32 L1972.33 827.36 L1974.03 828.40 L1975.75 829.43 L1977.46 830.45 L1979.19 831.46 L1980.91 832.47 L1982.65 833.46 L1984.38 834.45 L1986.13 835.43 L1987.87 836.41 L1989.62 837.37 L1991.38 838.33 L1993.14 839.28 L1994.91 840.22 L1996.68 841.15 L1998.46 842.07 L2000.25 842.98 L2002.03 843.89 L2003.83 844.78 L2005.62 845.67 L2007.43 846.55 L2009.24 847.42 L2011.05 848.28 L2012.87 849.13 L2014.69 849.98 L2016.52 850.81 L2018.36 851.64 L2020.20 852.45 L2022.04 853.26 L2023.89 854.05 L2025.75 854.84 L2027.61 855.62 L2029.47 856.39 L2031.35 857.15 L2033.22 857.89 L2035.10 858.63 L2036.99 859.36 L2038.89 860.08 L2040.78 860.79 L2042.69 861.49 L2052.05 865.00" stroke="#000000" stroke-width="1.8" fill="none" stroke-linejoin="round"/>
<path d="M1175.84 894.95 L1177.86 885.16 L1178.30 883.04 L1178.74 880.92 L1179.17 878.81 L1179.61 876.69 L1180.05 874.57 L1180.48 872.45 L1180.92 870.33 L1181.35 868.21 L1181.78 866.10 L1182.22 863.98 L1182.65 861.86 L1183.08 859.74 L1183.52 857.62 L1183.95 855.50 L1184.38 853.38 L1184.81 851.26 L1185.24 849.14 L1185.67 847.02 L1186.10 844.90 L1186.53 842.78 L1186.96 840.66 L1187.39 838.54 L1187.82 836.41 L1188.25 834.29 L1188.68 832.17 L1189.11 830.05 L1189.53 827.93 L1189.96 825.80 L1190.39 823.68 L1190.82 821.56 L1191.24 819.44 L1191.67 817.31 L1192.10 815.19 L1192.52 813.07 L1192.95 810.94 L1193.37 808.82 L1193.80 806.70 L1194.23 804.57 L1194.65 802.45 L1195.08 800.32 L1195.50 798.20 L1195.93 796.08 L1196.35 793.95 L1196.77 791.83 L1197.20 789.70 L1197.62 787.58 L1198.05 785.45 L1198.47 783.33 L1198.89 781.20 L1199.32 779.08 L1199.74 776.95 L1200.16 774.83 L1200.59 772.70 L1201.01 770.57 L1201.43 768.45 L1201.86 766.32 L1202.28 764.20 L1202.70 762.07 L1203.12 759.94 L1203.55 757.82 L1203.97 755.69 L1204.39 753.56 L1204.81 751.44 L1205.24 749.31 L1205.66 747.18 L1206.08 745.06 L1206.50 742.93 L1206.93 740.80 L1207.35 738.68 L1207.77 736.55 L1208.19 734.42 L1208.62 732.30 L1209.04 730.17 L1209.46 728.04 L1209.88 725.91 L1210.31 723.79 L1210.73 721.66 L1211.15 719.53 L1211.57 717.40 L1212.00 715.28 L1212.42 713.15 L1212.84 711.02 L1213.27 708.89 L1213.69 706.76 L1214.11 704.64 L1214.54 702.51 L1214.96 700.38 L1215.38 698.25 L1215.81 696.13 L1216.23 694.00 L1216.66 691.87 L1217.08 689.74 L1217.50 687.61 L1217.93 685.49 L1218.35 683.36 L1218.78 681.23 L1219.20 679.10 L1219.63 676.97 L1220.06 674.85 L1220.48 672.72 L1220.91 670.59 L1221.33 668.46 L1221.76 666.34 L1222.19 664.21 L1222.61 662.08 L1223.04 659.95 L1223.47 657.82 L1223.90 655.70 L1224.32 653.57 L1224.75 651.44 L1225.18 649.31 L1225.61 647.19 L1226.04 645.06 L1226.47 642.93 L1226.90 640.80 L1227.33 638.68 L1227.76 636.55 L1228.19 634.42 L1228.62 632.29 L1229.05 630.17 L1229.48 628.04 L1229.91 625.91 L1230.35 623.78 L1230.78 621.66 L1231.21 619.53 L1231.65 617.40 L1232.08 615.28 L1232.51 613.15 L1232.95 611.02 L1233.38 608.90 L1233.82 606.77 L1234.25 604.64 L1234.69 602.52 L1235.13 600.39 L1235.56 598.27 L1236.00 596.14 L1236.44 594.01 L1236.88 591.89 L1237.32 589.76 L1237.76 587.64 L1238.20 585.51 L1238.64 583.39 L1239.08 581.26 L1239.52 579.14 L1239.96 577.01 L1240.40 574.89 L1240.85 572.76 L1241.29 570.64 L1241.73 568.51 L1242.18 566.39 L1242.62 564.26 L1243.07 562.14 L1243.51 560.02 L1243.96 557.89 L1244.41 555.77 L1244.86 553.64 L1245.30 551.52 L1245.75 549.40 L1246.20 547.27 L1246.65 545.15 L1247.10 543.03 L1247.56 540.91 L1248.01 538.78 L1248.46 536.66 L1248.91 534.54 L1249.37 532.42 L1249.82 530.30 L1250.28 528.17 L1250.73 526.05 L1251.19 523.93 L1251.65 521.81 L1252.10 519.69 L1252.56 517.57 L1253.02 515.45 L1253.48 513.33 L1253.94 511.21 L1254.40 509.09 L1254.87 506.97 L1255.33 504.85 L1255.79 502.73 L1256.26 500.61 L1256.72 498.49 L1257.19 496.37 L1257.66 494.25 L1258.12 492.13 L1258.59 490.02 L1259.06 487.90 L1259.53 485.78 L1260.00 483.66 L1260.47 481.55 L1260.94 479.43 L1261.42 477.31 L1261.89 475.20 L1262.36 473.08 L1262.84 470.96 L1263.32 468.85 L1263.79 466.73 L1264.27 464.62 L1264.75 462.50 L1265.23 460.39 L1265.71 458.27 L1266.19 456.16 L1266.67 454.04 L1267.16 451.93 L1267.64 449.82 L1268.12 447.70 L1268.61 445.59 L1269.10 443.48 L1269.58 441.37 L1270.07 439.25 L1270.56 437.14 L1271.05 435.03 L1271.55 432.92 L1272.04 430.81 L1272.53 428.70 L1273.03 426.59 L1273.52 424.48 L1274.02 422.37 L1274.52 420.26 L1275.02 418.15 L1275.52 416.04 L1276.02 413.93 L1276.52 411.83 L1277.03 409.72 L1277.53 407.61 L1278.04 405.50 L1278.55 403.40 L1279.06 401.29 L1279.57 399.19 L1280.08 397.08 L1280.60 394.98 L1281.11 392.87 L1281.63 390.77 L1282.15 388.67 L1282.67 386.56 L1283.19 384.46 L1283.71 382.36 L1284.23 380.26 L1284.76 378.15 L1285.28 376.05 L1285.81 373.95 L1286.34 371.85 L1286.87 369.75 L1287.41 367.66 L1287.94 365.56 L1288.48 363.46 L1289.02 361.36 L1289.56 359.27 L1290.10 357.17 L1290.64 355.07 L1291.19 352.98 L1291.74 350.88 L1292.28 348.79 L1292.84 346.69 L1293.39 344.60 L1293.94 342.51 L1294.50 340.42 L1295.06 338.33 L1295.62 336.23 L1296.18 334.14 L1296.74 332.05 L1297.31 329.97 L1297.88 327.88 L1298.45 325.79 L1299.02 323.70 L1299.59 321.61 L1300.17 319.53 L1300.75 317.44 L1301.33 315.36 L1301.91 313.27 L1302.49 311.19 L1303.08 309.11 L1303.67 307.02 L1304.26 304.94 L1304.85 302.86 L1305.45 300.78 L1306.05 298.70 L1306.65 296.62 L1307.25 294.54 L1307.85 292.47 L1308.46 290.39 L1309.07 288.31 L1309.68 286.24 L1310.29 284.16 L1310.91 282.09 L1311.53 280.01 L1312.15 277.94 L1312.77 275.87 L1313.40 273.80 L1314.03 271.73 L1314.66 269.66 L1315.29 267.59 L1315.93 265.52 L1316.57 263.45 L1317.21 261.39 L1317.86 259.32 L1318.50 257.26 L1319.15 255.19 L1319.80 253.13 L1320.46 251.06 L1321.12 249.00 L1321.78 246.94 L1322.44 244.88 L1323.11 242.82 L1323.77 240.76 L1324.45 238.70 L1325.12 236.65 L1325.80 234.59 L1326.48 232.54 L1327.16 230.48 L1327.84 228.43 L1328.53 226.38 L1329.22 224.32 L1329.92 222.27 L1330.62 220.22 L1331.32 218.17 L1332.02 216.13 L1332.73 214.08 L1333.44 212.03 L1334.15 209.99 L1334.87 207.94 L1335.58 205.90 L1336.31 203.85 L1337.03 201.81 L1337.76 199.77 L1338.49 197.73 L1339.23 195.69 L1339.96 193.65 L1340.71 191.62 L1341.45 189.58 L1342.20 187.55 L1342.95 185.51 L1343.70 183.48 L1344.46 181.45 L1345.22 179.42 L1345.99 177.39 L1346.75 175.36 L1347.52 173.33 L1348.30 171.30 L1349.08 169.28 L1349.86 167.25 L1350.64 165.23 L1351.43 163.20 L1352.23 161.18 L1353.02 159.16 L1353.82 157.14 L1354.62 155.12 L1355.43 153.10 L1356.24 151.09 L1357.05 149.07 L1357.87 147.06 L1358.69 145.04 L1359.52 143.03 L1360.34 141.02 L1361.18 139.01 L1362.01 137.00 L1362.85 134.99 L1363.70 132.99 L1364.54 130.98 L1365.39 128.98 L1366.25 126.98 L1367.11 124.97 L1367.97 122.97 L1368.84 120.97 L1369.71 118.97 L1370.58 116.98 L1371.46 114.98 L1372.34 112.99 L1373.23 110.99 L1374.12 109.00 L1375.02 107.01 L1375.92 105.03 L1376.84 103.05 L1377.76 101.07 L1378.68 99.10 L1379.62 97.14 L1380.57 95.19 L1381.54 93.25 L1382.51 91.31 L1383.50 89.39 L1384.50 87.48 L1385.52 85.59 L1386.56 83.70 L1387.61 81.83 L1388.69 79.98 L1389.78 78.14 L1390.89 76.32 L1392.02 74.52 L1393.18 72.74 L1394.35 70.98 L1395.55 69.24 L1396.78 67.52 L1398.03 65.82 L1399.31 64.15 L1400.61 62.50 L1401.95 60.88 L1403.31 59.28 L1404.70 57.72 L1406.12 56.18 L1407.58 54.66 L1409.07 53.18 L1410.59 51.73 L1412.14 50.31 L1413.74 48.93 L1415.36 47.58 L1417.03 46.26 L1418.73 44.98 L1420.48 43.73 L1422.26 42.53 L1424.07 41.38 L1425.92 40.30 L1427.80 39.28 L1429.72 38.35 L1431.65 37.51 L1433.62 36.77 L1435.61 36.14 L1437.62 35.63 L1439.65 35.25 L1441.69 35.01 L1443.75 34.90 L1445.82 34.92 L1447.89 35.05 L1449.95 35.30 L1452.00 35.65 L1454.04 36.11 L1456.06 36.66 L1458.05 37.30 L1460.02 38.02 L1461.94 38.81 L1463.83 39.68 L1465.68 40.61 L1467.50 41.61 L1469.29 42.67 L1471.04 43.79 L1472.75 44.97 L1474.44 46.20 L1476.10 47.49 L1477.73 48.82 L1479.34 50.20 L1480.91 51.63 L1482.47 53.09 L1484.00 54.60 L1485.50 56.13 L1486.99 57.71 L1488.46 59.31 L1489.91 60.93 L1491.34 62.59 L1492.75 64.26 L1494.15 65.95 L1495.54 67.66 L1496.91 69.39 L1498.27 71.12 L1499.62 72.86 L1500.97 74.61 L1502.30 76.36 L1503.62 78.12 L1504.94 79.88 L1506.25 81.64 L1507.55 83.41 L1508.84 85.18 L1510.13 86.95 L1511.40 88.73 L1512.67 90.51 L1513.93 92.30 L1515.19 94.08 L1516.43 95.88 L1517.67 97.67 L1518.91 99.47 L1520.13 101.27 L1521.35 103.08 L1522.56 104.89 L1523.76 106.70 L1524.96 108.51 L1526.15 110.33 L1527.34 112.16 L1528.51 113.98 L1529.68 115.81 L1530.85 117.64 L1532.01 119.47 L1533.16 121.31 L1534.31 123.15 L1535.45 124.99 L1536.59 126.84 L1537.72 128.68 L1538.84 130.53 L1539.96 132.39 L1541.07 134.24 L1542.18 136.10 L1543.28 137.96 L1544.38 139.83 L1545.48 141.69 L1546.56 143.56 L1547.65 145.43 L1548.73 147.31 L1549.80 149.18 L1550.87 151.06 L1551.93 152.94 L1553.00 154.82 L1554.05 156.71 L1555.11 158.59 L1556.15 160.48 L1557.20 162.37 L1558.24 164.26 L1559.28 166.16 L1560.31 168.05 L1561.34 169.95 L1562.37 171.85 L1563.39 173.75 L1564.41 175.66 L1565.43 177.56 L1566.45 179.47 L1567.46 181.38 L1568.47 183.29 L1569.47 185.20 L1570.47 187.11 L1571.48 189.02 L1572.47 190.94 L1573.47 192.86 L1574.46 194.78 L1575.46 196.70 L1576.45 198.62 L1577.43 200.54 L1578.42 202.46 L1579.40 204.39 L1580.39 206.31 L1581.37 208.24 L1582.34 210.16 L1583.32 212.09 L1584.30 214.02 L1585.27 215.95 L1586.24 217.89 L1587.21 219.82 L1588.18 221.75 L1589.15 223.69 L1590.12 225.62 L1591.08 227.56 L1592.04 229.50 L1593.01 231.44 L1593.97 233.37 L1594.93 235.32 L1595.88 237.26 L1596.84 239.20 L1597.79 241.14 L1598.75 243.08 L1599.70 245.03 L1600.65 246.97 L1601.60 248.92 L1602.55 250.87 L1603.50 252.81 L1604.45 254.76 L1605.39 256.71 L1606.34 258.66 L1607.28 260.61 L1608.22 262.56 L1609.16 264.51 L1610.10 266.47 L1611.04 268.42 L1611.98 270.37 L1612.92 272.33 L1613.86 274.28 L1614.80 276.24 L1615.73 278.19 L1616.67 280.15 L1617.60 282.10 L1618.53 284.06 L1619.47 286.02 L1620.40 287.98 L1621.33 289.93 L1622.26 291.89 L1623.19 293.85 L1624.12 295.81 L1625.05 297.77 L1625.98 299.73 L1626.91 301.69 L1627.84 303.65 L1628.77 305.61 L1629.70 307.58 L1630.62 309.54 L1631.55 311.50 L1632.48 313.46 L1633.41 315.42 L1634.33 317.39 L1635.26 319.35 L1636.18 321.31 L1637.11 323.28 L1638.04 325.24 L1638.96 327.20 L1639.89 329.17 L1640.81 331.13 L1641.74 333.10 L1642.67 335.06 L1643.59 337.02 L1644.52 338.99 L1645.44 340.95 L1646.37 342.91 L1647.30 344.88 L1648.22 346.84 L1649.15 348.81 L1650.08 350.77 L1651.01 352.73 L1651.93 354.70 L1652.86 356.66 L1653.79 358.62 L1654.72 360.59 L1655.65 362.55 L1656.58 364.51 L1657.51 366.48 L1658.44 368.44 L1659.37 370.40 L1660.30 372.36 L1661.24 374.33 L1662.17 376.29 L1663.10 378.25 L1664.04 380.21 L1664.97 382.17 L1665.91 384.13 L1666.85 386.09 L1667.78 388.05 L1668.72 390.01 L1669.66 391.97 L1670.60 393.93 L1671.54 395.88 L1672.48 397.84 L1673.43 399.80 L1674.37 401.76 L1675.32 403.71 L1676.26 405.67 L1677.21 407.62 L1678.16 409.58 L1679.11 411.53 L1680.06 413.48 L1681.01 415.44 L1681.96 417.39 L1682.92 419.34 L1683.87 421.29 L1684.83 423.24 L1685.79 425.19 L1686.74 427.14 L1687.71 429.09 L1688.67 431.04 L1689.63 432.98 L1690.59 434.93 L1691.56 436.87 L1692.53 438.82 L1693.50 440.76 L1694.47 442.71 L1695.44 444.65 L1696.41 446.59 L1697.38 448.53 L1698.36 450.47 L1699.34 452.41 L1700.32 454.35 L1701.30 456.29 L1702.28 458.22 L1703.26 460.16 L1704.25 462.09 L1705.24 464.03 L1706.22 465.96 L1707.21 467.89 L1708.21 469.82 L1709.20 471.75 L1710.19 473.68 L1711.19 475.61 L1712.19 477.54 L1713.19 479.46 L1714.19 481.39 L1715.20 483.31 L1716.20 485.24 L1717.21 487.16 L1718.22 489.08 L1719.23 491.00 L1720.24 492.92 L1721.26 494.84 L1722.28 496.75 L1723.30 498.67 L1724.32 500.58 L1725.34 502.50 L1726.36 504.41 L1727.39 506.32 L1728.42 508.23 L1729.45 510.14 L1730.48 512.04 L1731.52 513.95 L1732.56 515.85 L1733.60 517.76 L1734.64 519.66 L1735.68 521.56 L1736.73 523.46 L1737.77 525.36 L1738.82 527.25 L1739.88 529.15 L1740.93 531.04 L1741.99 532.94 L1743.05 534.83 L1744.11 536.72 L1745.17 538.61 L1746.24 540.49 L1747.30 542.38 L1748.37 544.26 L1749.45 546.15 L1750.52 548.03 L1751.60 549.91 L1752.68 551.79 L1753.76 553.66 L1754.85 555.54 L1755.94 557.41 L1757.03 559.28 L1758.12 561.16 L1759.21 563.02 L1760.31 564.89 L1761.41 566.76 L1762.51 568.62 L1763.62 570.49 L1764.73 572.35 L1765.84 574.21 L1766.95 576.06 L1768.07 577.92 L1769.18 579.78 L1770.31 581.63 L1771.43 583.48 L1772.56 585.33 L1773.68 587.18 L1774.82 589.02 L1775.95 590.87 L1777.09 592.71 L1778.23 594.55 L1779.37 596.39 L1780.52 598.23 L1781.67 600.06 L1782.82 601.89 L1783.98 603.73 L1785.13 605.55 L1786.29 607.38 L1787.46 609.21 L1788.62 611.03 L1789.79 612.85 L1790.97 614.67 L1792.14 616.49 L1793.32 618.31 L1794.50 620.12 L1795.69 621.94 L1796.87 623.75 L1798.07 625.55 L1799.26 627.36 L1800.46 629.17 L1801.66 630.97 L1802.86 632.77 L1804.07 634.57 L1805.28 636.36 L1806.49 638.16 L1807.71 639.95 L1808.93 641.74 L1810.15 643.53 L1811.38 645.31 L1812.61 647.09 L1813.84 648.87 L1815.08 650.65 L1816.32 652.43 L1817.56 654.20 L1818.81 655.97 L1820.06 657.74 L1821.32 659.51 L1822.58 661.27 L1823.84 663.03 L1825.11 664.79 L1826.38 666.54 L1827.65 668.29 L1828.93 670.04 L1830.21 671.79 L1831.50 673.53 L1832.79 675.27 L1834.09 677.01 L1835.39 678.74 L1836.69 680.47 L1838.00 682.19 L1839.31 683.92 L1840.63 685.64 L1841.95 687.35 L1843.28 689.06 L1844.61 690.77 L1845.95 692.48 L1847.29 694.18 L1848.64 695.88 L1849.99 697.57 L1851.34 699.26 L1852.70 700.94 L1854.07 702.63 L1855.44 704.30 L1856.81 705.98 L1858.19 707.65 L1859.58 709.31 L1860.97 710.97 L1862.37 712.63 L1863.77 714.28 L1865.18 715.93 L1866.59 717.57 L1868.01 719.21 L1869.43 720.84 L1870.86 722.47 L1872.30 724.10 L1873.74 725.72 L1875.18 727.33 L1876.64 728.94 L1878.09 730.55 L1879.56 732.15 L1881.03 733.74 L1882.50 735.33 L1883.99 736.92 L1885.47 738.50 L1886.97 740.07 L1888.47 741.64 L1889.97 743.20 L1891.48 744.76 L1893.00 746.31 L1894.52 747.86 L1896.05 749.40 L1897.58 750.94 L1899.12 752.47 L1900.67 753.99 L1902.22 755.51 L1903.78 757.02 L1905.34 758.53 L1906.91 760.03 L1908.48 761.52 L1910.07 763.01 L1911.65 764.49 L1913.24 765.97 L1914.84 767.44 L1916.44 768.90 L1918.05 770.36 L1919.67 771.81 L1921.29 773.25 L1922.92 774.69 L1924.55 776.12 L1926.18 777.54 L1927.83 778.96 L1929.48 780.37 L1931.13 781.77 L1932.79 783.16 L1934.46 784.55 L1936.13 785.94 L1937.81 787.31 L1939.49 788.68 L1941.18 790.04 L1942.87 791.39 L1944.57 792.74 L1946.28 794.07 L1947.99 795.40 L1949.71 796.73 L1951.43 798.04 L1953.16 799.35 L1954.89 800.65 L1956.63 801.94 L1958.38 803.23 L1960.13 804.50 L1961.88 805.77 L1963.64 807.03 L1965.41 808.28 L1967.18 809.53 L1968.96 810.76 L1970.74 811.99 L1972.53 813.21 L1974.33 814.42 L1976.13 815.63 L1977.93 816.82 L1979.75 818.01 L1981.56 819.18 L1983.38 820.35 L1985.21 821.51 L1987.05 822.66 L1988.88 823.80 L1990.73 824.94 L1992.58 826.06 L1994.43 827.18 L1996.29 828.28 L1998.16 829.38 L2000.03 830.47 L2001.91 831.55 L2003.79 832.62 L2005.68 833.68 L2007.57 834.73 L2009.47 835.77 L2011.37 836.80 L2013.28 837.82 L2015.20 838.84 L2017.12 839.84 L2019.04 840.83 L2020.97 841.82 L2022.91 842.79 L2024.85 843.75 L2026.80 844.71 L2028.75 845.65 L2030.71 846.58 L2032.67 847.51 L2034.64 848.42 L2036.61 849.32 L2038.59 850.21 L2040.57 851.09 L2042.56 851.97 L2051.70 856.03" stroke="#0000ff" stroke-width="1.8" fill="none" stroke-linejoin="round"/>
</g>
<path d="M368.9 229V285" stroke="#ff0000" stroke-width="1.8"/>
<path d="M402.5 280V282.5" stroke="#ff0000" stroke-width="1.8"/>
<path d="M416.2 284.4V340.8" stroke="#ff0000" stroke-width="1.8"/>
<path d="M426 290.9V323.3" stroke="#ff0000" stroke-width="1.8"/>
<path d="M442.6 303V312.2" stroke="#ff0000" stroke-width="1.8"/>
<path d="M358.9 219.6V227" stroke="#ff00ff" stroke-width="1.8"/>
<path d="M368.9 168V229" stroke="#ff00ff" stroke-width="1.8"/>
<path d="M402.5 206V212" stroke="#ff00ff" stroke-width="1.8"/>
<path d="M416.2 211V304.8" stroke="#ff00ff" stroke-width="1.8"/>
<path d="M426 218.7V266.2" stroke="#ff00ff" stroke-width="1.8"/>
<path d="M442.6 230V243.8" stroke="#ff00ff" stroke-width="1.8"/>
<path d="M358.8 144V158.6" stroke="#000000" stroke-width="1.8"/>
<path d="M368.9 131V168" stroke="#000000" stroke-width="1.8"/>
<path d="M402.5 127V134.8" stroke="#000000" stroke-width="1.8"/>
<path d="M416.2 131V265.9" stroke="#000000" stroke-width="1.8"/>
<path d="M426 137.7V203.5" stroke="#000000" stroke-width="1.8"/>
<path d="M442.6 150V167.2" stroke="#000000" stroke-width="1.8"/>
<path d="M358.8 94V115.5" stroke="#0000ff" stroke-width="1.8"/>
<path d="M368.9 83V131.2" stroke="#0000ff" stroke-width="1.8"/>
<path d="M402.5 76V85.9" stroke="#0000ff" stroke-width="1.8"/>
<path d="M416.2 80V241.3" stroke="#0000ff" stroke-width="1.8"/>
<path d="M426 88V163.6" stroke="#0000ff" stroke-width="1.8"/>
<path d="M442.6 100V119" stroke="#0000ff" stroke-width="1.8"/>
<path d="M1414.6 312.8V410" stroke="#ff0000" stroke-width="1.8"/>
<path d="M1448.9 402.6V406.5" stroke="#ff0000" stroke-width="1.8"/>
<path d="M1462.6 407V432.4" stroke="#ff0000" stroke-width="1.8"/>
<path d="M1472 410.7V427.8" stroke="#ff0000" stroke-width="1.8"/>
<path d="M1489 420.4V424.6" stroke="#ff0000" stroke-width="1.8"/>
<path d="M1404.8 286.4V300.8" stroke="#ff00ff" stroke-width="1.8"/>
<path d="M1414.6 240.2V303.1" stroke="#ff00ff" stroke-width="1.8"/>
<path d="M1448.9 271V279.5" stroke="#ff00ff" stroke-width="1.8"/>
<path d="M1462.6 273.7V361.1" stroke="#ff00ff" stroke-width="1.8"/>
<path d="M1472 280.7V322.7" stroke="#ff00ff" stroke-width="1.8"/>
<path d="M1489 291V300.8" stroke="#ff00ff" stroke-width="1.8"/>
<path d="M1404.8 146.6V177.1" stroke="#000000" stroke-width="1.8"/>
<path d="M1414.6 141V198" stroke="#000000" stroke-width="1.8"/>
<path d="M1448.9 126V139.8" stroke="#000000" stroke-width="1.8"/>
<path d="M1462.6 129V288.5" stroke="#000000" stroke-width="1.8"/>
<path d="M1472 135.5V207.3" stroke="#000000" stroke-width="1.8"/>
<path d="M1489 149.4V163.3" stroke="#000000" stroke-width="1.8"/>
<path d="M1404.8 58.8V101.3" stroke="#0000ff" stroke-width="1.8"/>
<path d="M1414.6 46V141" stroke="#0000ff" stroke-width="1.8"/>
<path d="M1448.9 34V52.3" stroke="#0000ff" stroke-width="1.8"/>
<path d="M1462.6 37.6V240.6" stroke="#0000ff" stroke-width="1.8"/>
<path d="M1472 42.2V132.8" stroke="#0000ff" stroke-width="1.8"/>
<path d="M1489 57V75.5" stroke="#0000ff" stroke-width="1.8"/>
<path d="M364.4 286.5L365.6 281.5L366.7 286.3" stroke="#ff0000" stroke-width="1.6" fill="none" stroke-linejoin="round"/>
<path d="M364.4 215.0L365.6 210.0L366.7 214.8" stroke="#ff00ff" stroke-width="1.6" fill="none" stroke-linejoin="round"/>
<path d="M364.4 138.5L365.6 133.5L366.7 138.3" stroke="#000000" stroke-width="1.6" fill="none" stroke-linejoin="round"/>
<path d="M364.4 88.4L365.6 83.4L366.7 88.2" stroke="#0000ff" stroke-width="1.6" fill="none" stroke-linejoin="round"/>
<path d="M1410.2 411.9L1411.4 406.9L1412.5 411.7" stroke="#ff0000" stroke-width="1.6" fill="none" stroke-linejoin="round"/>
<path d="M1410.2 282.3L1411.4 277.3L1412.5 282.1" stroke="#ff00ff" stroke-width="1.6" fill="none" stroke-linejoin="round"/>
<path d="M1410.2 140.0L1411.4 135.0L1412.5 139.8" stroke="#000000" stroke-width="1.6" fill="none" stroke-linejoin="round"/>
<path d="M1410.2 51.8L1411.4 46.8L1412.5 51.6" stroke="#0000ff" stroke-width="1.6" fill="none" stroke-linejoin="round"/>
<rect x="112.1" y="2" width="885.4" height="886.7" fill="none" stroke="#000" stroke-width="2"/>
<path d="M149 888.7v-9.6M149 2v9.6M185.9 888.7v-9.6M185.9 2v9.6M222.8 888.7v-9.6M222.8 2v9.6M259.7 888.7v-9.6M259.7 2v9.6M296.6 888.7v-19.3M296.6 2v19.3M333.4 888.7v-9.6M333.4 2v9.6M370.3 888.7v-9.6M370.3 2v9.6M407.2 888.7v-9.6M407.2 2v9.6M444.1 888.7v-9.6M444.1 2v9.6M481 888.7v-19.3M481 2v19.3M517.9 888.7v-9.6M517.9 2v9.6M554.8 888.7v-9.6M554.8 2v9.6M591.7 888.7v-9.6M591.7 2v9.6M628.6 888.7v-9.6M628.6 2v9.6M665.5 888.7v-19.3M665.5 2v19.3M702.4 888.7v-9.6M702.4 2v9.6M739.3 888.7v-9.6M739.3 2v9.6M776.1 888.7v-9.6M776.1 2v9.6M813 888.7v-9.6M813 2v9.6M849.9 888.7v-19.3M849.9 2v19.3M886.8 888.7v-9.6M886.8 2v9.6M923.7 888.7v-9.6M923.7 2v9.6M960.6 888.7v-9.6M960.6 2v9.6M112.1 852.5h9.6M997.5 852.5h-9.6M112.1 816.3h9.6M997.5 816.3h-9.6M112.1 780.1h9.6M997.5 780.1h-9.6M112.1 743.9h19.3M997.5 743.9h-19.3M112.1 707.7h9.6M997.5 707.7h-9.6M112.1 671.5h9.6M997.5 671.5h-9.6M112.1 635.3h9.6M997.5 635.3h-9.6M112.1 599.1h9.6M997.5 599.1h-9.6M112.1 562.9h19.3M997.5 562.9h-19.3M112.1 526.7h9.6M997.5 526.7h-9.6M112.1 490.5h9.6M997.5 490.5h-9.6M112.1 454.3h9.6M997.5 454.3h-9.6M112.1 418.1h9.6M997.5 418.1h-9.6M112.1 381.9h19.3M997.5 381.9h-19.3M112.1 345.7h9.6M997.5 345.7h-9.6M112.1 309.5h9.6M997.5 309.5h-9.6M112.1 273.3h9.6M997.5 273.3h-9.6M112.1 237.1h9.6M997.5 237.1h-9.6M112.1 200.9h19.3M997.5 200.9h-19.3M112.1 164.7h9.6M997.5 164.7h-9.6M112.1 128.5h9.6M997.5 128.5h-9.6M112.1 92.3h9.6M997.5 92.3h-9.6M112.1 56.1h9.6M997.5 56.1h-9.6M112.1 19.9h19.3M997.5 19.9h-19.3" stroke="#000" stroke-width="2" fill="none"/>
<rect x="1157.5" y="2" width="886" height="886.7" fill="none" stroke="#000" stroke-width="2"/>
<path d="M1194.4 888.7v-9.6M1194.4 2v9.6M1231.3 888.7v-9.6M1231.3 2v9.6M1268.2 888.7v-9.6M1268.2 2v9.6M1305.2 888.7v-9.6M1305.2 2v9.6M1342.1 888.7v-19.3M1342.1 2v19.3M1379 888.7v-9.6M1379 2v9.6M1415.9 888.7v-9.6M1415.9 2v9.6M1452.8 888.7v-9.6M1452.8 2v9.6M1489.8 888.7v-9.6M1489.8 2v9.6M1526.7 888.7v-19.3M1526.7 2v19.3M1563.6 888.7v-9.6M1563.6 2v9.6M1600.5 888.7v-9.6M1600.5 2v9.6M1637.4 888.7v-9.6M1637.4 2v9.6M1674.3 888.7v-9.6M1674.3 2v9.6M1711.2 888.7v-19.3M1711.2 2v19.3M1748.2 888.7v-9.6M1748.2 2v9.6M1785.1 888.7v-9.6M1785.1 2v9.6M1822 888.7v-9.6M1822 2v9.6M1858.9 888.7v-9.6M1858.9 2v9.6M1895.8 888.7v-19.3M1895.8 2v19.3M1932.8 888.7v-9.6M1932.8 2v9.6M1969.7 888.7v-9.6M1969.7 2v9.6M2006.6 888.7v-9.6M2006.6 2v9.6M1157.5 852.5h9.6M2043.5 852.5h-9.6M1157.5 816.3h9.6M2043.5 816.3h-9.6M1157.5 780.1h9.6M2043.5 780.1h-9.6M1157.5 743.9h19.3M2043.5 743.9h-19.3M1157.5 707.7h9.6M2043.5 707.7h-9.6M1157.5 671.5h9.6M2043.5 671.5h-9.6M1157.5 635.3h9.6M2043.5 635.3h-9.6M1157.5 599.1h9.6M2043.5 599.1h-9.6M1157.5 562.9h19.3M2043.5 562.9h-19.3M1157.5 526.7h9.6M2043.5 526.7h-9.6M1157.5 490.5h9.6M2043.5 490.5h-9.6M1157.5 454.3h9.6M2043.5 454.3h-9.6M1157.5 418.1h9.6M2043.5 418.1h-9.6M1157.5 381.9h19.3M2043.5 381.9h-19.3M1157.5 345.7h9.6M2043.5 345.7h-9.6M1157.5 309.5h9.6M2043.5 309.5h-9.6M1157.5 273.3h9.6M2043.5 273.3h-9.6M1157.5 237.1h9.6M2043.5 237.1h-9.6M1157.5 200.9h19.3M2043.5 200.9h-19.3M1157.5 164.7h9.6M2043.5 164.7h-9.6M1157.5 128.5h9.6M2043.5 128.5h-9.6M1157.5 92.3h9.6M2043.5 92.3h-9.6M1157.5 56.1h9.6M2043.5 56.1h-9.6M1157.5 19.9h19.3M2043.5 19.9h-19.3" stroke="#000" stroke-width="2" fill="none"/>
<text transform="matrix(0.3634 0.0000 0.0000 0.3075 39.75 29.89)" font-size="100" font-family="'Liberation Serif', serif" fill="#000">250</text>
<text transform="matrix(0.3634 0.0000 0.0000 0.3075 39.75 210.89)" font-size="100" font-family="'Liberation Serif', serif" fill="#000">200</text>
<text transform="matrix(0.3634 0.0000 0.0000 0.3075 39.75 391.89)" font-size="100" font-family="'Liberation Serif', serif" fill="#000">150</text>
<text transform="matrix(0.3634 0.0000 0.0000 0.3075 39.75 572.89)" font-size="100" font-family="'Liberation Serif', serif" fill="#000">100</text>
<text transform="matrix(0.3634 0.0000 0.0000 0.3075 57.92 753.89)" font-size="100" font-family="'Liberation Serif', serif" fill="#000">50</text>
<text transform="matrix(0.3663 0.0000 0.0000 0.3090 103.04 926.03)" font-size="100" font-family="'Liberation Serif', serif" fill="#000">0</text>
<text transform="matrix(0.3663 0.0000 0.0000 0.3090 287.13 926.03)" font-size="100" font-family="'Liberation Serif', serif" fill="#000">5</text>
<text transform="matrix(0.3663 0.0000 0.0000 0.3090 461.89 926.03)" font-size="100" font-family="'Liberation Serif', serif" fill="#000">10</text>
<text transform="matrix(0.3663 0.0000 0.0000 0.3090 646.34 926.03)" font-size="100" font-family="'Liberation Serif', serif" fill="#000">15</text>
<text transform="matrix(0.3663 0.0000 0.0000 0.3090 831.72 926.03)" font-size="100" font-family="'Liberation Serif', serif" fill="#000">20</text>
<text transform="matrix(0.2943 0.0000 0.0000 0.3108 505.62 965.50)" font-size="100" font-family="'Liberation Serif', serif" fill="#000">E</text>
<text transform="matrix(0.2652 0.0000 0.0000 0.3793 525.84 967.37)" font-size="100" font-family="'Liberation Serif', serif" fill="#000">[</text>
<text transform="matrix(0.3110 0.0000 0.0000 0.2901 538.78 965.32)" font-size="100" font-family="'Liberation Serif', serif" fill="#000">keV</text>
<text transform="matrix(0.2818 0.0000 0.0000 0.3793 594.57 967.37)" font-size="100" font-family="'Liberation Serif', serif" fill="#000">]</text>
<text transform="matrix(0.0000 -0.3448 0.2910 0.0000 24.32 599.10)" font-size="100" font-family="'Liberation Serif', serif" fill="#000">10</text>
<text transform="matrix(0.0000 -0.1920 0.1940 0.0000 16.31 562.63)" font-size="100" font-family="'Liberation Serif', serif" fill="#000">16</text>
<text transform="matrix(0.0000 -0.3225 0.3000 0.0000 24.90 540.28)" font-size="100" font-family="'Liberation Serif', serif" fill="#000">×</text>
<text transform="matrix(0.0000 -0.2083 0.3000 0.0000 24.90 520.20)" font-size="100" font-family="'Liberation Serif', serif" stroke-width="2.5" stroke="#000" fill="#000">ℱ</text>
<text transform="matrix(0.0000 -0.2696 0.3659 0.0000 26.64 500.09)" font-size="100" font-family="'Liberation Serif', serif" fill="#000">[</text>
<text transform="matrix(0.0000 -0.3958 0.3000 0.0000 24.90 489.78)" font-size="100" font-family="'Liberation Serif', serif" fill="#000">erg</text>
<text transform="matrix(0.0000 -0.3774 0.3000 0.0000 24.90 423.11)" font-size="100" font-family="'Liberation Serif', serif" fill="#000">s</text>
<text transform="matrix(0.0000 -0.2200 0.1708 0.0000 15.70 407.30)" font-size="100" font-family="'Liberation Serif', serif" fill="#000">−1</text>
<text transform="matrix(0.0000 -0.3063 0.3000 0.0000 24.90 366.22)" font-size="100" font-family="'Liberation Serif', serif" fill="#000">Hz</text>
<text transform="matrix(0.0000 -0.2021 0.1708 0.0000 15.70 328.51)" font-size="100" font-family="'Liberation Serif', serif" fill="#000">−1</text>
<text transform="matrix(0.0000 -0.3091 0.3549 0.0000 26.39 302.34)" font-size="100" font-family="'Liberation Serif', serif" fill="#000">]</text>
<text transform="matrix(0.3634 0.0000 0.0000 0.3075 1085.55 29.89)" font-size="100" font-family="'Liberation Serif', serif" fill="#000">250</text>
<text transform="matrix(0.3634 0.0000 0.0000 0.3075 1085.55 210.89)" font-size="100" font-family="'Liberation Serif', serif" fill="#000">200</text>
<text transform="matrix(0.3634 0.0000 0.0000 0.3075 1085.55 391.89)" font-size="100" font-family="'Liberation Serif', serif" fill="#000">150</text>
<text transform="matrix(0.3634 0.0000 0.0000 0.3075 1085.55 572.89)" font-size="100" font-family="'Liberation Serif', serif" fill="#000">100</text>
<text transform="matrix(0.3634 0.0000 0.0000 0.3075 1103.72 753.89)" font-size="100" font-family="'Liberation Serif', serif" fill="#000">50</text>
<text transform="matrix(0.3663 0.0000 0.0000 0.3090 1148.44 926.03)" font-size="100" font-family="'Liberation Serif', serif" fill="#000">0</text>
<text transform="matrix(0.3663 0.0000 0.0000 0.3090 1332.66 926.03)" font-size="100" font-family="'Liberation Serif', serif" fill="#000">5</text>
<text transform="matrix(0.3663 0.0000 0.0000 0.3090 1507.54 926.03)" font-size="100" font-family="'Liberation Serif', serif" fill="#000">10</text>
<text transform="matrix(0.3663 0.0000 0.0000 0.3090 1692.12 926.03)" font-size="100" font-family="'Liberation Serif', serif" fill="#000">15</text>
<text transform="matrix(0.3663 0.0000 0.0000 0.3090 1877.62 926.03)" font-size="100" font-family="'Liberation Serif', serif" fill="#000">20</text>
<text transform="matrix(0.2943 0.0000 0.0000 0.3108 1551.42 965.50)" font-size="100" font-family="'Liberation Serif', serif" fill="#000">E</text>
<text transform="matrix(0.2652 0.0000 0.0000 0.3793 1571.64 967.37)" font-size="100" font-family="'Liberation Serif', serif" fill="#000">[</text>
<text transform="matrix(0.3110 0.0000 0.0000 0.2901 1584.58 965.32)" font-size="100" font-family="'Liberation Serif', serif" fill="#000">keV</text>
<text transform="matrix(0.2818 0.0000 0.0000 0.3793 1640.37 967.37)" font-size="100" font-family="'Liberation Serif', serif" fill="#000">]</text>
<text transform="matrix(0.0000 -0.3448 0.2910 0.0000 1070.72 599.10)" font-size="100" font-family="'Liberation Serif', serif" fill="#000">10</text>
<text transform="matrix(0.0000 -0.1920 0.1940 0.0000 1062.71 562.63)" font-size="100" font-family="'Liberation Serif', serif" fill="#000">16</text>
<text transform="matrix(0.0000 -0.3225 0.3000 0.0000 1071.30 540.28)" font-size="100" font-family="'Liberation Serif', serif" fill="#000">×</text>
<text transform="matrix(0.0000 -0.2083 0.3000 0.0000 1071.30 520.20)" font-size="100" font-family="'Liberation Serif', serif" stroke-width="2.5" stroke="#000" fill="#000">ℱ</text>
<text transform="matrix(0.0000 -0.2696 0.3659 0.0000 1073.04 500.09)" font-size="100" font-family="'Liberation Serif', serif" fill="#000">[</text>
<text transform="matrix(0.0000 -0.3958 0.3000 0.0000 1071.30 489.78)" font-size="100" font-family="'Liberation Serif', serif" fill="#000">erg</text>
<text transform="matrix(0.0000 -0.3774 0.3000 0.0000 1071.30 423.11)" font-size="100" font-family="'Liberation Serif', serif" fill="#000">s</text>
<text transform="matrix(0.0000 -0.2200 0.1708 0.0000 1062.10 407.30)" font-size="100" font-family="'Liberation Serif', serif" fill="#000">−1</text>
<text transform="matrix(0.0000 -0.3063 0.3000 0.0000 1071.30 366.22)" font-size="100" font-family="'Liberation Serif', serif" fill="#000">Hz</text>
<text transform="matrix(0.0000 -0.2021 0.1708 0.0000 1062.10 328.51)" font-size="100" font-family="'Liberation Serif', serif" fill="#000">−1</text>
<text transform="matrix(0.0000 -0.3091 0.3549 0.0000 1072.79 302.34)" font-size="100" font-family="'Liberation Serif', serif" fill="#000">]</text>
<text transform="matrix(0.2229 0.0000 0.0000 0.3031 777.53 93.00)" font-size="100" font-family="'Liberation Serif', serif" fill="#000">M</text>
<text transform="matrix(0.1419 0.0000 0.0000 0.1908 800.12 102.30)" font-size="100" font-family="'Liberation Serif', serif" font-weight="bold" fill="#000">H</text>
<text transform="matrix(0.3489 0.0000 0.0000 0.3320 813.91 95.82)" font-size="100" font-family="'Liberation Serif', serif" fill="#000">=</text>
<text transform="matrix(0.3613 0.0000 0.0000 0.3090 836.55 92.68)" font-size="100" font-family="'Liberation Serif', serif" fill="#000">0.299</text>
<text transform="matrix(0.2229 0.0000 0.0000 0.3031 777.53 129.40)" font-size="100" font-family="'Liberation Serif', serif" fill="#000">M</text>
<text transform="matrix(0.1780 0.0000 0.0000 0.1908 800.04 138.70)" font-size="100" font-family="'Liberation Serif', serif" font-weight="bold" fill="#000">He</text>
<text transform="matrix(0.3489 0.0000 0.0000 0.3080 824.41 131.12)" font-size="100" font-family="'Liberation Serif', serif" fill="#000">=</text>
<text transform="matrix(0.3641 0.0000 0.0000 0.3075 847.04 128.99)" font-size="100" font-family="'Liberation Serif', serif" fill="#000">0.700</text>
<text transform="matrix(0.2229 0.0000 0.0000 0.3031 777.53 165.10)" font-size="100" font-family="'Liberation Serif', serif" fill="#000">M</text>
<text transform="matrix(0.1891 0.0000 0.0000 0.1908 800.02 174.40)" font-size="100" font-family="'Liberation Serif', serif" font-weight="bold" fill="#000">Fe</text>
<text transform="matrix(0.3489 0.0000 0.0000 0.3120 821.91 167.00)" font-size="100" font-family="'Liberation Serif', serif" fill="#000">=</text>
<text transform="matrix(0.3558 0.0000 0.0000 0.3060 844.68 164.79)" font-size="100" font-family="'Liberation Serif', serif" fill="#000">0.001</text>
<text transform="matrix(0.2229 0.0000 0.0000 0.3031 1823.73 93.00)" font-size="100" font-family="'Liberation Serif', serif" fill="#000">M</text>
<text transform="matrix(0.1419 0.0000 0.0000 0.1908 1846.32 102.30)" font-size="100" font-family="'Liberation Serif', serif" font-weight="bold" fill="#000">H</text>
<text transform="matrix(0.3489 0.0000 0.0000 0.3320 1860.11 95.82)" font-size="100" font-family="'Liberation Serif', serif" fill="#000">=</text>
<text transform="matrix(0.3613 0.0000 0.0000 0.3090 1882.75 92.68)" font-size="100" font-family="'Liberation Serif', serif" fill="#000">0.299</text>
<text transform="matrix(0.2229 0.0000 0.0000 0.3031 1823.73 129.40)" font-size="100" font-family="'Liberation Serif', serif" fill="#000">M</text>
<text transform="matrix(0.1780 0.0000 0.0000 0.1908 1846.24 138.70)" font-size="100" font-family="'Liberation Serif', serif" font-weight="bold" fill="#000">He</text>
<text transform="matrix(0.3489 0.0000 0.0000 0.3080 1870.61 131.12)" font-size="100" font-family="'Liberation Serif', serif" fill="#000">=</text>
<text transform="matrix(0.3641 0.0000 0.0000 0.3075 1893.24 128.99)" font-size="100" font-family="'Liberation Serif', serif" fill="#000">0.700</text>
<text transform="matrix(0.2229 0.0000 0.0000 0.3031 1823.73 165.10)" font-size="100" font-family="'Liberation Serif', serif" fill="#000">M</text>
<text transform="matrix(0.1891 0.0000 0.0000 0.1908 1846.22 174.40)" font-size="100" font-family="'Liberation Serif', serif" font-weight="bold" fill="#000">Fe</text>
<text transform="matrix(0.3489 0.0000 0.0000 0.3120 1868.11 167.00)" font-size="100" font-family="'Liberation Serif', serif" fill="#000">=</text>
<text transform="matrix(0.3558 0.0000 0.0000 0.3060 1890.88 164.79)" font-size="100" font-family="'Liberation Serif', serif" fill="#000">0.001</text>
<text transform="matrix(0.2531 0.0000 0.0000 0.3231 296.53 817.60)" font-size="100" font-family="'Liberation Serif', serif" fill="#000">Ω</text>
<text transform="matrix(0.2075 0.0000 0.0000 0.1846 316.47 808.30)" font-size="100" font-family="'Liberation Serif', serif" fill="#000">2</text>
<text transform="matrix(0.3532 0.0000 0.0000 0.2880 329.28 818.60)" font-size="100" font-family="'Liberation Serif', serif" fill="#000">=</text>
<text transform="matrix(0.3593 0.0000 0.0000 0.3060 352.16 816.79)" font-size="100" font-family="'Liberation Serif', serif" fill="#000">0.30</text>
<text transform="matrix(0.3754 0.0000 0.0000 0.3060 432.00 816.79)" font-size="100" font-family="'Liberation Serif', serif" fill="#000">(e=0.54)</text>
<path d="M296.4 793.6H315.8" stroke="#000" stroke-width="1.5"/>
<text transform="matrix(0.2531 0.0000 0.0000 0.3231 1342.93 817.60)" font-size="100" font-family="'Liberation Serif', serif" fill="#000">Ω</text>
<text transform="matrix(0.2075 0.0000 0.0000 0.1846 1362.87 808.30)" font-size="100" font-family="'Liberation Serif', serif" fill="#000">2</text>
<text transform="matrix(0.3532 0.0000 0.0000 0.2880 1375.68 818.60)" font-size="100" font-family="'Liberation Serif', serif" fill="#000">=</text>
<text transform="matrix(0.3593 0.0000 0.0000 0.3060 1398.56 816.79)" font-size="100" font-family="'Liberation Serif', serif" fill="#000">0.60</text>
<text transform="matrix(0.3754 0.0000 0.0000 0.3060 1478.40 816.79)" font-size="100" font-family="'Liberation Serif', serif" fill="#000">(e=0.69)</text>
<path d="M1342.8 793.6H1362.2" stroke="#000" stroke-width="1.5"/>
<text transform="matrix(0.3565 0.0000 0.0000 0.3104 739.67 622.28)" font-size="100" font-family="'Liberation Serif', serif" fill="#0000ff">80</text>
<text transform="matrix(0.1833 0.0000 0.0000 0.1967 777.18 614.28)" font-size="100" font-family="'Liberation Serif', serif" stroke-width="4" stroke="#0000ff" fill="#0000ff">°</text>
<text transform="matrix(0.3565 0.0000 0.0000 0.3104 739.67 799.48)" font-size="100" font-family="'Liberation Serif', serif" fill="#ff0000">20</text>
<text transform="matrix(0.1833 0.0000 0.0000 0.1967 777.18 791.48)" font-size="100" font-family="'Liberation Serif', serif" stroke-width="4" stroke="#ff0000" fill="#ff0000">°</text>
<text transform="matrix(0.3565 0.0000 0.0000 0.3104 1785.77 600.28)" font-size="100" font-family="'Liberation Serif', serif" fill="#0000ff">80</text>
<text transform="matrix(0.1833 0.0000 0.0000 0.1967 1823.28 592.28)" font-size="100" font-family="'Liberation Serif', serif" stroke-width="4" stroke="#0000ff" fill="#0000ff">°</text>
<text transform="matrix(0.3565 0.0000 0.0000 0.3104 1785.77 817.58)" font-size="100" font-family="'Liberation Serif', serif" fill="#ff0000">20</text>
<text transform="matrix(0.1833 0.0000 0.0000 0.1967 1823.28 809.58)" font-size="100" font-family="'Liberation Serif', serif" stroke-width="4" stroke="#ff0000" fill="#ff0000">°</text>
</svg>
</body></html>
